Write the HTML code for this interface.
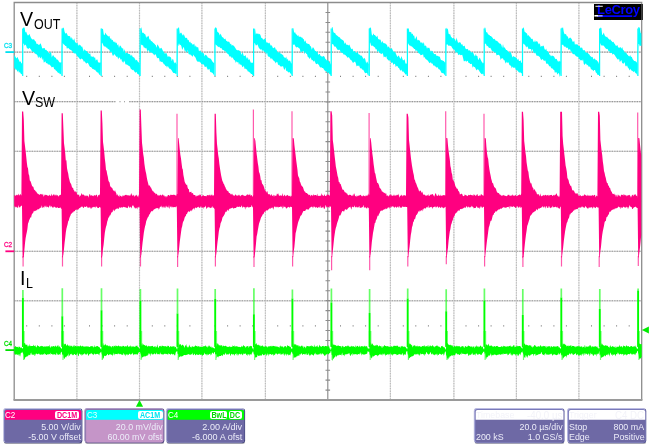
<!DOCTYPE html>
<html><head><meta charset="utf-8"><title>scope</title>
<style>
*{margin:0;padding:0;box-sizing:border-box}
html,body{width:650px;height:444px;background:#fff;overflow:hidden}
body{position:relative;font-family:"Liberation Sans",sans-serif}
#w{position:absolute;left:0;top:0;width:650px;height:444px;will-change:transform;background:#fff}
svg{position:absolute;left:0;top:0}
svg text{font-family:"Liberation Sans",sans-serif}
.lm,.ls{position:absolute;color:#000;white-space:nowrap;transform-origin:0 0}
.lm{font-size:20.2px;line-height:23px;transform:scaleX(.975)}
.ls{font-size:15.3px;line-height:18px;transform:scaleX(.815)}
.logo{position:absolute;left:594px;top:4px;width:48.6px;height:15.9px;background:#000;color:#0000ff;font-weight:bold;font-size:13px;letter-spacing:-.38px;line-height:13px;padding-left:3.1px;padding-top:0;line-height:12px;overflow:hidden;white-space:nowrap}
.bx{position:absolute;top:409.9px;height:32.4px;color:#ececf9;font-size:9.6px;line-height:10px}
.bx .hd{position:absolute;left:0;right:0;top:0;height:10px;color:#fff}
.bx .hd b{position:absolute;left:.1px;top:.1px;font-weight:normal;font-size:9.4px;line-height:10.4px;transform:scaleX(.86);transform-origin:0 0;white-space:nowrap}
.bx .hd i{position:absolute;right:1.5px;top:-.3px;font-style:normal;font-size:9px;line-height:11px;transform:scaleX(.86);transform-origin:100% 0;white-space:nowrap}
.bx .r{position:absolute;right:.9px;text-align:right;white-space:nowrap;transform:scaleX(.925);transform-origin:100% 0}
.bx .l{position:absolute;left:.6px;white-space:nowrap;transform:scaleX(.925);transform-origin:0 0}
.bx .r1,.bx .l1{top:11.9px}
.bx .r2,.bx .l2{top:22.2px}
.tg{position:absolute;top:.8px;height:8px;background:#fff;border-radius:2px;overflow:hidden}
.tg span{position:absolute;left:50%;top:-1.1px;width:60px;margin-left:-30px;text-align:center;font-size:8.7px;line-height:10px;font-weight:bold;transform:scaleX(.82);white-space:nowrap}
</style></head><body><div id="w">
<svg width="650" height="444" viewBox="0 0 650 444">
<path d="M76.9 2.5V400M139.5 2.5V400M201.9 2.5V400M265.4 2.5V400M390.4 2.5V400M453.9 2.5V400M516.4 2.5V400M578.9 2.5V400" stroke="#e2e2e2" stroke-width="1.15" fill="none"/>
<path d="M76.9 2.5V400M139.5 2.5V400M201.9 2.5V400M265.4 2.5V400M390.4 2.5V400M453.9 2.5V400M516.4 2.5V400M578.9 2.5V400" stroke="#bcbcbc" stroke-width="1.15" stroke-dasharray="1.3 1.22" fill="none"/>
<path d="M14.2 52.1H641.7M14.2 101.6H115.4M119.6 101.6h.8M124.2 101.6h.8M129.2 101.6H641.7M14.2 151.3H641.7M14.2 251.3H641.7M14.2 300.8H641.7M14.2 350.2H641.7" stroke="#d8d8d8" stroke-width="1.2" fill="none"/>
<path d="M14.2 52.1H641.7M14.2 101.6H115.4M119.6 101.6h.8M124.2 101.6h.8M129.2 101.6H641.7M14.2 151.3H641.7M14.2 251.3H641.7M14.2 300.8H641.7M14.2 350.2H641.7" stroke="#999" stroke-width="1.1" stroke-dasharray="1.3 1.2" fill="none"/>
<line x1="327.8" y1="2.5" x2="327.8" y2="400" stroke="#8c8c8c" stroke-width="1.15"/>
<line x1="14.2" y1="201.2" x2="641.7" y2="201.2" stroke="#8c8c8c" stroke-width="1.3"/>
<path d="M325.5 12.4h4.6M325.5 22.4h4.6M325.5 32.3h4.6M325.5 42.2h4.6M325.5 52.2h4.6M325.5 62.1h4.6M325.5 72.1h4.6M325.5 82h4.6M325.5 91.9h4.6M325.5 101.9h4.6M325.5 111.8h4.6M325.5 121.8h4.6M325.5 131.7h4.6M325.5 141.6h4.6M325.5 151.6h4.6M325.5 161.5h4.6M325.5 171.4h4.6M325.5 181.4h4.6M325.5 191.3h4.6M325.5 201.2h4.6M325.5 211.2h4.6M325.5 221.1h4.6M325.5 231.1h4.6M325.5 241h4.6M325.5 250.9h4.6M325.5 260.9h4.6M325.5 270.8h4.6M325.5 280.8h4.6M325.5 290.7h4.6M325.5 300.6h4.6M325.5 310.6h4.6M325.5 320.5h4.6M325.5 330.4h4.6M325.5 340.4h4.6M325.5 350.3h4.6M325.5 360.2h4.6M325.5 370.2h4.6M325.5 380.1h4.6M325.5 390.1h4.6M26.8 198.9v4.6M39.3 198.9v4.6M51.9 198.9v4.6M64.4 198.9v4.6M77 198.9v4.6M89.5 198.9v4.6M102.1 198.9v4.6M114.6 198.9v4.6M127.2 198.9v4.6M139.7 198.9v4.6M152.2 198.9v4.6M164.8 198.9v4.6M177.3 198.9v4.6M189.9 198.9v4.6M202.4 198.9v4.6M215 198.9v4.6M227.6 198.9v4.6M240.1 198.9v4.6M252.7 198.9v4.6M265.2 198.9v4.6M277.8 198.9v4.6M290.3 198.9v4.6M302.9 198.9v4.6M315.4 198.9v4.6M327.9 198.9v4.6M340.5 198.9v4.6M353.1 198.9v4.6M365.6 198.9v4.6M378.2 198.9v4.6M390.7 198.9v4.6M403.2 198.9v4.6M415.8 198.9v4.6M428.4 198.9v4.6M440.9 198.9v4.6M453.4 198.9v4.6M466 198.9v4.6M478.6 198.9v4.6M491.1 198.9v4.6M503.7 198.9v4.6M516.2 198.9v4.6M528.8 198.9v4.6M541.3 198.9v4.6M553.9 198.9v4.6M566.4 198.9v4.6M579 198.9v4.6M591.5 198.9v4.6M604.1 198.9v4.6M616.6 198.9v4.6M629.2 198.9v4.6" stroke="#8c8c8c" stroke-width="1.05" fill="none"/>
<path d="M26.2 76.4h1M38.8 76.4h1M51.4 76.4h1M63.9 76.4h1M89 76.4h1M101.6 76.4h1M114.1 76.4h1M126.7 76.4h1M151.8 76.4h1M164.3 76.4h1M176.8 76.4h1M189.4 76.4h1M214.5 76.4h1M227.1 76.4h1M239.6 76.4h1M252.2 76.4h1M277.2 76.4h1M289.8 76.4h1M302.4 76.4h1M314.9 76.4h1M340 76.4h1M352.6 76.4h1M365.1 76.4h1M377.7 76.4h1M402.8 76.4h1M415.3 76.4h1M427.9 76.4h1M440.4 76.4h1M465.5 76.4h1M478.1 76.4h1M490.6 76.4h1M503.2 76.4h1M528.3 76.4h1M540.8 76.4h1M553.4 76.4h1M565.9 76.4h1M591 76.4h1M603.6 76.4h1M616.1 76.4h1M628.7 76.4h1M26.2 325.8h1M38.8 325.8h1M51.4 325.8h1M63.9 325.8h1M89 325.8h1M101.6 325.8h1M114.1 325.8h1M126.7 325.8h1M151.8 325.8h1M164.3 325.8h1M176.8 325.8h1M189.4 325.8h1M214.5 325.8h1M227.1 325.8h1M239.6 325.8h1M252.2 325.8h1M277.2 325.8h1M289.8 325.8h1M302.4 325.8h1M314.9 325.8h1M340 325.8h1M352.6 325.8h1M365.1 325.8h1M377.7 325.8h1M402.8 325.8h1M415.3 325.8h1M427.9 325.8h1M440.4 325.8h1M465.5 325.8h1M478.1 325.8h1M490.6 325.8h1M503.2 325.8h1M528.3 325.8h1M540.8 325.8h1M553.4 325.8h1M565.9 325.8h1M591 325.8h1M603.6 325.8h1M616.1 325.8h1M628.7 325.8h1" stroke="#808080" stroke-width="1.2" fill="none"/>
<path d="M14.2 400V2.5H641.7V400" fill="none" stroke="#8c8c8c" stroke-width="1.3"/>
<path d="M13.5 400H642.4" fill="none" stroke="#9a9a9a" stroke-width="1.8"/>
<path d="M14.2 55 15 56 15.8 57.6 16.6 58.5 17.4 56.8 18.2 58.7 19 60.3 19.8 61.9 20.6 61.3 21.4 63.6 22.2 62.9 23 28.3 23.8 27.2 24.6 27.7 25.4 32.5 26.2 31.7 27 33.9 27.8 35.5 28.6 35.3 29.4 33.7 30.2 36.1 31 37.7 31.8 39 32.6 39.5 33.4 39.3 34.2 39.5 35 40.9 35.8 41.6 36.6 44.1 37.4 43.8 38.2 44.5 39 44.9 39.8 44.2 40.6 43.2 41.4 45.6 42.2 48.2 43 48.4 43.8 48.1 44.6 48 45.4 50 46.2 49.8 47 50.7 47.8 51.7 48.6 52.4 49.4 53.5 50.2 52.8 51 51.4 51.8 57.6 52.6 55.6 53.4 55.3 54.2 56.8 55 57.6 55.8 57.8 56.6 59.4 57.4 59.6 58.2 60.3 59 61.7 59.8 62.5 60.6 62.6 61.4 62.2 62.2 28.9 63 27.6 63.8 27.9 64.6 31.8 65.4 33.7 66.2 32.7 67 33.7 67.8 35.7 68.6 36 69.4 36.1 70.2 36.6 71 38.9 71.8 37 72.6 39.6 73.4 40.4 74.2 38.3 75 41.7 75.8 42.8 76.6 43.4 77.4 42.3 78.2 46 79 44.2 79.8 45.2 80.6 45.2 81.4 46.7 82.2 46.5 83 48.9 83.8 51.4 84.6 49.1 85.4 50.6 86.2 50.9 87 51.2 87.8 53.1 88.6 53.2 89.4 54 90.2 53.3 91 56.9 91.8 55.9 92.6 57.1 93.4 56.2 94.2 58 95 57 95.8 60.7 96.6 59.5 97.4 59.6 98.2 62.7 99 62 99.8 62.9 100.6 62.2 101.4 28.5 102.2 28.7 103 29 103.8 34.6 104.6 35.3 105.4 32.6 106.2 34.3 107 34.9 107.8 36.1 108.6 36.4 109.4 35.7 110.2 38.9 111 37.9 111.8 40.3 112.6 39.8 113.4 41.6 114.2 42.4 115 41.2 115.8 43.3 116.6 42.5 117.4 45.4 118.2 44.1 119 48 119.8 45.4 120.6 45.8 121.4 47.2 122.2 48.8 123 47.8 123.8 52.1 124.6 49.1 125.4 53.5 126.2 52.7 127 52.7 127.8 53.3 128.6 53.9 129.4 54 130.2 54.5 131 56.3 131.8 54.4 132.6 56.8 133.4 57.3 134.2 57.5 135 59.1 135.8 60.4 136.6 59.8 137.4 60.8 138.2 62.5 139 61.9 139.8 65.4 140.6 28.6 141.4 27.3 142.2 33 143 32.5 143.8 33.3 144.6 34 145.4 34.4 146.2 37.9 147 36 147.8 36.9 148.6 35.6 149.4 39.6 150.2 39.2 151 41.1 151.8 41.2 152.6 42 153.4 43.1 154.2 43.6 155 44.6 155.8 45.2 156.6 47.8 157.4 44.3 158.2 45.6 159 46.9 159.8 48.7 160.6 48.2 161.4 47.8 162.2 49.2 163 51 163.8 51.7 164.6 53.6 165.4 53.6 166.2 52.8 167 54.4 167.8 56.9 168.6 56.3 169.4 56.5 170.2 57 171 57.5 171.8 61.2 172.6 58.8 173.4 59.8 174.2 63.5 175 61.9 175.8 63 176.6 64.6 177.4 29.4 178.2 28.1 179 27 179.8 34 180.6 32.7 181.4 32.8 182.2 34.4 183 35.7 183.8 34 184.6 36.2 185.4 37.9 186.2 37.7 187 38.1 187.8 40.2 188.6 39.7 189.4 42.4 190.2 41.4 191 43.4 191.8 43 192.6 44.8 193.4 44.6 194.2 43.4 195 46.9 195.8 45.2 196.6 47.2 197.4 47.3 198.2 47.2 199 51.5 199.8 50.5 200.6 50.6 201.4 52.4 202.2 51.9 203 53.4 203.8 52.9 204.6 56.4 205.4 54.5 206.2 55.3 207 55.7 207.8 57.6 208.6 57.7 209.4 58.2 210.2 58.6 211 59.1 211.8 60.6 212.6 61.8 213.4 62.4 214.2 63.3 215 27.6 215.8 27.4 216.6 28.1 217.4 31.9 218.2 32.3 219 33.2 219.8 35.4 220.6 33.4 221.4 35.6 222.2 37.2 223 37.2 223.8 38.4 224.6 39.3 225.4 38.5 226.2 41 227 40.8 227.8 42.1 228.6 41.5 229.4 42.1 230.2 44.3 231 43.4 231.8 45.8 232.6 44.9 233.4 45.6 234.2 46.2 235 47.4 235.8 48.8 236.6 49.9 237.4 50.2 238.2 50.3 239 50.3 239.8 51 240.6 51.5 241.4 55.1 242.2 52.6 243 53.6 243.8 55.9 244.6 55.9 245.4 55 246.2 57.2 247 58.9 247.8 57.1 248.6 60.2 249.4 59 250.2 61.3 251 63.1 251.8 62.6 252.6 62.7 253.4 63 254.2 29.3 255 28.2 255.8 34.6 256.6 33.3 257.4 33.7 258.2 33.6 259 34.4 259.8 33.8 260.6 35.6 261.4 38 262.2 38 263 39.5 263.8 39.6 264.6 38.9 265.4 38.1 266.2 41.7 267 42.9 267.8 42.3 268.6 43.5 269.4 42.6 270.2 44.5 271 45.9 271.8 44.9 272.6 47.5 273.4 48.2 274.2 47.4 275 47.2 275.8 49.8 276.6 49.6 277.4 52.4 278.2 51.6 279 53 279.8 52.1 280.6 53.7 281.4 53.8 282.2 54.7 283 54.7 283.8 57.1 284.6 57.6 285.4 58.3 286.2 56.5 287 59.9 287.8 58.4 288.6 61.3 289.4 60.4 290.2 60.7 291 62.9 291.8 63.8 292.6 28 293.4 28.2 294.2 33 295 32 295.8 34.1 296.6 34.5 297.4 35.9 298.2 35.1 299 36.9 299.8 36.6 300.6 36.7 301.4 37.5 302.2 37.5 303 38.8 303.8 39.3 304.6 41.9 305.4 40.3 306.2 43.1 307 43.4 307.8 43.7 308.6 44.1 309.4 44.2 310.2 45.9 311 46.6 311.8 49.8 312.6 47.4 313.4 47.6 314.2 49.1 315 50.7 315.8 51.1 316.6 51.9 317.4 51 318.2 55.1 319 54.1 319.8 53.9 320.6 56 321.4 56.2 322.2 56.7 323 56.3 323.8 55.9 324.6 57 325.4 58.9 326.2 59.5 327 60.8 327.8 59.9 328.6 60.8 329.4 62.7 330.2 63.1 331 64.8 331.8 27.6 332.6 27 333.4 32.1 334.2 33.1 335 32.7 335.8 34.5 336.6 35.2 337.4 35.7 338.2 36.6 339 37.2 339.8 37.2 340.6 38.8 341.4 39.2 342.2 39.8 343 40.3 343.8 41.1 344.6 43.9 345.4 42.3 346.2 44.8 347 44.4 347.8 45.1 348.6 45.4 349.4 44.6 350.2 46.8 351 48.6 351.8 49.3 352.6 48.4 353.4 51.5 354.2 51.2 355 51.1 355.8 52.8 356.6 53.1 357.4 51.3 358.2 53.4 359 54.7 359.8 54.4 360.6 55.8 361.4 55.5 362.2 56.5 363 57.9 363.8 58.9 364.6 57.7 365.4 59.7 366.2 63.5 367 61.3 367.8 62.4 368.6 64.3 369.4 28.2 370.2 27.3 371 28.2 371.8 34.5 372.6 35.8 373.4 33.3 374.2 34.9 375 34.9 375.8 36.2 376.6 37.1 377.4 35.4 378.2 39.6 379 38.7 379.8 39.9 380.6 39.6 381.4 42.9 382.2 40.8 383 42.6 383.8 43.3 384.6 43.3 385.4 43.4 386.2 44.2 387 44.9 387.8 47.4 388.6 46.2 389.4 47.6 390.2 48.9 391 48.7 391.8 47.8 392.6 49.9 393.4 51.3 394.2 52.3 395 51.4 395.8 53.4 396.6 55.3 397.4 57.2 398.2 55.5 399 55.9 399.8 57.8 400.6 59 401.4 56 402.2 58.3 403 60.5 403.8 60 404.6 59.2 405.4 63.3 406.2 64.1 407 63 407.8 29.2 408.6 27.9 409.4 32.1 410.2 32.2 411 31.7 411.8 34.3 412.6 33.4 413.4 35.8 414.2 35.6 415 39.5 415.8 37.8 416.6 36 417.4 40.4 418.2 39.8 419 40.6 419.8 40.4 420.6 42.7 421.4 42.4 422.2 42.6 423 44.1 423.8 42.1 424.6 46.1 425.4 45.6 426.2 45.9 427 48.7 427.8 47.2 428.6 48.1 429.4 47.7 430.2 50.4 431 51.7 431.8 50.5 432.6 51.2 433.4 53.1 434.2 53.9 435 54.2 435.8 54.1 436.6 56 437.4 55.8 438.2 56.1 439 56.7 439.8 56.4 440.6 59.2 441.4 60.2 442.2 59.9 443 61.3 443.8 60.8 444.6 62.3 445.4 62.5 446.2 27.4 447 29.5 447.8 28.2 448.6 33.8 449.4 34.2 450.2 34.3 451 36.7 451.8 37.6 452.6 38.6 453.4 37.5 454.2 39.2 455 38.9 455.8 41.4 456.6 37.5 457.4 40.8 458.2 43.2 459 41.9 459.8 42.5 460.6 42.4 461.4 44.8 462.2 43.9 463 45.9 463.8 46.3 464.6 45.4 465.4 48.4 466.2 49.1 467 49.2 467.8 48.8 468.6 50.8 469.4 50.3 470.2 50.8 471 52.3 471.8 52.5 472.6 52.1 473.4 53.2 474.2 55.2 475 56.4 475.8 53.7 476.6 56 477.4 55.9 478.2 60.3 479 58.8 479.8 57.5 480.6 59.4 481.4 61.2 482.2 62.2 483 63.4 483.8 62.4 484.6 27.6 485.4 27.8 486.2 32.5 487 31.9 487.8 33.8 488.6 34.8 489.4 35 490.2 35.9 491 35.9 491.8 37.1 492.6 37.8 493.4 39.3 494.2 38.8 495 39.6 495.8 40.8 496.6 40.7 497.4 41.2 498.2 42 499 43.2 499.8 43.5 500.6 43.8 501.4 44.9 502.2 47.9 503 44.1 503.8 47.8 504.6 47.2 505.4 48.8 506.2 49.9 507 50.1 507.8 51.3 508.6 51.6 509.4 53.3 510.2 52 511 52.7 511.8 55.3 512.6 57.5 513.4 56 514.2 56.7 515 56.9 515.8 57.5 516.6 58.1 517.4 60 518.2 58.5 519 61.1 519.8 61.1 520.6 60.2 521.4 62.9 522.2 62.6 523 27.4 523.8 27.8 524.6 31.8 525.4 32.3 526.2 33 527 33.4 527.8 36.1 528.6 35 529.4 36.5 530.2 37.1 531 38.5 531.8 39 532.6 38.7 533.4 41.4 534.2 42.2 535 40 535.8 42.3 536.6 40.9 537.4 41.6 538.2 43.2 539 44.6 539.8 42.9 540.6 46.9 541.4 46 542.2 46.6 543 45.5 543.8 46 544.6 49.3 545.4 49.9 546.2 48.4 547 51.4 547.8 51.3 548.6 51.9 549.4 54.4 550.2 54.7 551 56.4 551.8 55.4 552.6 55.8 553.4 56.1 554.2 56.7 555 58.4 555.8 59.3 556.6 58.8 557.4 60.5 558.2 61.9 559 60.4 559.8 61.5 560.6 61.4 561.4 27.6 562.2 28.3 563 27 563.8 32.1 564.6 34.2 565.4 34 566.2 34.5 567 36.4 567.8 36.2 568.6 39.1 569.4 38.1 570.2 37.6 571 38.3 571.8 39.2 572.6 41.7 573.4 41.8 574.2 40.8 575 45 575.8 43.7 576.6 44.6 577.4 44.3 578.2 45.7 579 46.1 579.8 46.1 580.6 48.3 581.4 47.5 582.2 47.7 583 50.2 583.8 50.3 584.6 50 585.4 52.2 586.2 52.6 587 52.8 587.8 52.7 588.6 54.1 589.4 54.6 590.2 56 591 56.6 591.8 57.3 592.6 56.8 593.4 59.4 594.2 58.6 595 58.7 595.8 60.2 596.6 60 597.4 61.2 598.2 61.8 599 63.9 599.8 28.9 600.6 27.6 601.4 27.9 602.2 35.3 603 34.2 603.8 32.4 604.6 35.3 605.4 36.2 606.2 37.2 607 36.5 607.8 37.9 608.6 38.8 609.4 39.7 610.2 39.3 611 40.4 611.8 41.3 612.6 42.3 613.4 41.7 614.2 43.3 615 44.3 615.8 45.8 616.6 45.7 617.4 45 618.2 47.4 619 47.4 619.8 47.8 620.6 46.9 621.4 48.7 622.2 46.9 623 49.8 623.8 50.4 624.6 52.6 625.4 52.4 626.2 52.6 627 54.3 627.8 55 628.6 56 629.4 56.5 630.2 55.1 631 57.1 631.8 56.7 632.6 59 633.4 59.9 634.2 61.1 635 60.9 635.8 61.6 636.6 62.1 637.4 64 638.2 27.6 639 27 639.8 27.9 640.6 33 641.4 33.6 641.4 46.1 640.6 45.6 639.8 46.4 639 43.9 638.2 44.1 637.4 76 636.6 73.7 635.8 73.3 635 72.5 634.2 70.9 633.4 72.3 632.6 70.9 631.8 70.8 631 69.9 630.2 68.7 629.4 70.4 628.6 68.2 627.8 67.4 627 65.3 626.2 66.4 625.4 66 624.6 61.9 623.8 63.7 623 63.2 622.2 63.3 621.4 60.1 620.6 61.1 619.8 62.2 619 58.6 618.2 59.8 617.4 59.2 616.6 58 615.8 57.1 615 55.4 614.2 54.6 613.4 53.7 612.6 54.8 611.8 53 611 52.7 610.2 53.2 609.4 50.7 608.6 51.6 607.8 49.3 607 48.8 606.2 49.1 605.4 47.9 604.6 46.9 603.8 45.7 603 45.5 602.2 45.4 601.4 45.4 600.6 44.2 599.8 42.6 599 74.7 598.2 75.1 597.4 74.7 596.6 73 595.8 72.6 595 70 594.2 70.1 593.4 71.2 592.6 70.1 591.8 69.4 591 69.2 590.2 67 589.4 66.6 588.6 66.7 587.8 64.8 587 65.4 586.2 63.7 585.4 63.4 584.6 64.9 583.8 64 583 59.3 582.2 61.1 581.4 59.9 580.6 60.5 579.8 59.3 579 59 578.2 56.9 577.4 56.7 576.6 56.5 575.8 56 575 55.1 574.2 54.1 573.4 54.3 572.6 53.9 571.8 51.3 571 52.6 570.2 49.5 569.4 49.3 568.6 50.1 567.8 48 567 47.4 566.2 48 565.4 46.6 564.6 46.7 563.8 46.2 563 44.5 562.2 45 561.4 44.5 560.6 74.3 559.8 76.9 559 73.6 558.2 73.1 557.4 74.7 556.6 72.5 555.8 71.8 555 73.2 554.2 69.9 553.4 69.7 552.6 68.6 551.8 68.4 551 67.8 550.2 66 549.4 66.4 548.6 65 547.8 63.6 547 63.9 546.2 63.5 545.4 60.6 544.6 60.8 543.8 60.8 543 59.6 542.2 59 541.4 60.3 540.6 59 539.8 57 539 56.5 538.2 55.8 537.4 55.8 536.6 55.8 535.8 53.8 535 52.3 534.2 53.5 533.4 52.4 532.6 48.8 531.8 51.9 531 49 530.2 48.9 529.4 48.8 528.6 49.4 527.8 47 527 46.3 526.2 47.4 525.4 45.4 524.6 44.7 523.8 43.5 523 44.5 522.2 73.4 521.4 73.3 520.6 72.5 519.8 72.4 519 72.6 518.2 71.6 517.4 70.4 516.6 70 515.8 69.9 515 67.3 514.2 68.1 513.4 67.7 512.6 66.4 511.8 68.4 511 65.7 510.2 65.6 509.4 65.1 508.6 62.4 507.8 62.3 507 63.2 506.2 61.4 505.4 63.8 504.6 60.3 503.8 60.2 503 58.5 502.2 58.3 501.4 58.6 500.6 60 499.8 55.9 499 55.1 498.2 54.8 497.4 55 496.6 55.5 495.8 52.7 495 52.2 494.2 52.5 493.4 51.4 492.6 50.9 491.8 50.7 491 49 490.2 47.8 489.4 48 488.6 47.4 487.8 45.8 487 46.4 486.2 44.6 485.4 43.4 484.6 43.9 483.8 74.3 483 74.4 482.2 73.5 481.4 74.2 480.6 72.9 479.8 72 479 70.6 478.2 69.5 477.4 69.2 476.6 70.5 475.8 68.9 475 67.2 474.2 67 473.4 66.3 472.6 67.7 471.8 63.7 471 63.9 470.2 64 469.4 63.1 468.6 62.9 467.8 61.1 467 60.7 466.2 61.9 465.4 60.6 464.6 61.3 463.8 61.2 463 57.8 462.2 54.8 461.4 55 460.6 55.3 459.8 54.5 459 54.5 458.2 55.3 457.4 52.3 456.6 52 455.8 53.6 455 50.8 454.2 49.5 453.4 49.4 452.6 48.4 451.8 47.3 451 45.7 450.2 46.1 449.4 45.6 448.6 46 447.8 44.5 447 44.4 446.2 44.4 445.4 75.5 444.6 75 443.8 73.5 443 73.3 442.2 73 441.4 72.7 440.6 70.9 439.8 69.4 439 69.5 438.2 68.4 437.4 67 436.6 67.7 435.8 66.5 435 66.5 434.2 65.2 433.4 65.8 432.6 63.6 431.8 63.7 431 62.6 430.2 62.6 429.4 63.3 428.6 61.8 427.8 60.8 427 59.8 426.2 59.5 425.4 58.8 424.6 57.1 423.8 57.8 423 54 422.2 54.9 421.4 55.1 420.6 55.3 419.8 53.7 419 53.4 418.2 52.8 417.4 51.1 416.6 50.2 415.8 51.4 415 49 414.2 49.1 413.4 48.1 412.6 47.3 411.8 46.3 411 46.4 410.2 45.5 409.4 45.6 408.6 44.3 407.8 42.7 407 75.9 406.2 73.8 405.4 74.8 404.6 73 403.8 72.3 403 71.1 402.2 72.1 401.4 69.6 400.6 70.7 399.8 69.7 399 68 398.2 67.8 397.4 66 396.6 65.7 395.8 67.2 395 64 394.2 63.7 393.4 65.1 392.6 62.3 391.8 63.2 391 62.3 390.2 59.9 389.4 60.7 388.6 60.6 387.8 59.5 387 58.9 386.2 56.1 385.4 57.5 384.6 56.6 383.8 57.5 383 53.9 382.2 53.1 381.4 54.3 380.6 53.5 379.8 52.9 379 52.2 378.2 50.4 377.4 52.4 376.6 49.1 375.8 49.4 375 47.4 374.2 46.9 373.4 46.3 372.6 45.6 371.8 45.9 371 45.3 370.2 42.5 369.4 43.5 368.6 75.3 367.8 75.3 367 72.7 366.2 73.1 365.4 73.2 364.6 72.4 363.8 70.8 363 69.4 362.2 69.7 361.4 68.2 360.6 68.5 359.8 67.5 359 65.3 358.2 66.3 357.4 65.5 356.6 66.6 355.8 63.2 355 61.6 354.2 62.1 353.4 62.8 352.6 62.4 351.8 60.8 351 60 350.2 59.6 349.4 57.9 348.6 57.1 347.8 58 347 56.8 346.2 55.9 345.4 55 344.6 54.5 343.8 54.7 343 53.4 342.2 52.5 341.4 52.7 340.6 52.2 339.8 49.6 339 50.3 338.2 49.7 337.4 49.8 336.6 48.2 335.8 46.9 335 46.2 334.2 46.8 333.4 44.6 332.6 44.3 331.8 43.7 331 75.9 330.2 74.3 329.4 74.3 328.6 72 327.8 73.7 327 71.7 326.2 71.5 325.4 70.9 324.6 70.4 323.8 69.3 323 67.9 322.2 68 321.4 67.3 320.6 67.5 319.8 67 319 65.3 318.2 64.2 317.4 63.4 316.6 64.2 315.8 63.7 315 61.9 314.2 60.5 313.4 61.8 312.6 60 311.8 60.2 311 58.6 310.2 57.3 309.4 59.2 308.6 57.2 307.8 57.1 307 54 306.2 53.8 305.4 51.7 304.6 54.4 303.8 50.7 303 51.8 302.2 51.2 301.4 51.9 300.6 52.6 299.8 48.8 299 48.3 298.2 47.6 297.4 46.9 296.6 47.4 295.8 47.1 295 45.4 294.2 44.3 293.4 45.1 292.6 43.4 291.8 75.1 291 74.3 290.2 73 289.4 72.1 288.6 72.4 287.8 72 287 70.4 286.2 71.3 285.4 67.2 284.6 70.1 283.8 68.7 283 65.9 282.2 66.4 281.4 66.5 280.6 66.5 279.8 65.8 279 64.6 278.2 65.2 277.4 62.2 276.6 61.7 275.8 63.5 275 61.9 274.2 61.1 273.4 60.6 272.6 59.6 271.8 58.1 271 59.5 270.2 57.8 269.4 56.8 268.6 56.7 267.8 56.1 267 52.2 266.2 54.7 265.4 52.3 264.6 52 263.8 51.6 263 49.7 262.2 51.5 261.4 48.9 260.6 49.8 259.8 48.8 259 48.2 258.2 46.2 257.4 44.3 256.6 45.2 255.8 45.4 255 43.6 254.2 42.9 253.4 75 252.6 75.1 251.8 74.1 251 74.1 250.2 72.7 249.4 72.3 248.6 71.4 247.8 71.6 247 69.4 246.2 69.3 245.4 68.4 244.6 68.9 243.8 65.5 243 67.2 242.2 66.8 241.4 64.7 240.6 64.9 239.8 63.2 239 65.1 238.2 61.9 237.4 62.4 236.6 61.3 235.8 63 235 60.6 234.2 60 233.4 59.1 232.6 57.2 231.8 58.3 231 56.5 230.2 56.4 229.4 56.4 228.6 54.5 227.8 53.8 227 53.4 226.2 51.9 225.4 51.3 224.6 51.3 223.8 50 223 50.2 222.2 49.6 221.4 47.9 220.6 48.3 219.8 47.5 219 46.5 218.2 47.3 217.4 46 216.6 45.2 215.8 44.9 215 43.5 214.2 75.2 213.4 74.2 212.6 73 211.8 72.5 211 72.2 210.2 71.9 209.4 68.8 208.6 69.6 207.8 69.7 207 67.9 206.2 66.2 205.4 67.1 204.6 66.7 203.8 64.2 203 64.8 202.2 64 201.4 64.2 200.6 62.4 199.8 62.3 199 61.2 198.2 62.1 197.4 61.4 196.6 60.5 195.8 58.3 195 56.8 194.2 56.2 193.4 54.6 192.6 57.1 191.8 55.5 191 55.6 190.2 54.2 189.4 54.6 188.6 53.9 187.8 50.1 187 52.2 186.2 52.4 185.4 50.6 184.6 51 183.8 46.7 183 48.3 182.2 50.1 181.4 46.2 180.6 44.8 179.8 45.3 179 43.3 178.2 46.3 177.4 44.4 176.6 73.7 175.8 74.1 175 73.2 174.2 72.9 173.4 72.9 172.6 71.9 171.8 70.4 171 69.5 170.2 68.8 169.4 68.7 168.6 67.5 167.8 65.8 167 67.7 166.2 65.8 165.4 65.9 164.6 64.5 163.8 64.3 163 62.8 162.2 61.8 161.4 62 160.6 61.2 159.8 61.7 159 58.3 158.2 58.1 157.4 58.3 156.6 57 155.8 54.6 155 54.2 154.2 55.4 153.4 53.9 152.6 53.3 151.8 53 151 52.1 150.2 52.8 149.4 52 148.6 49.8 147.8 52 147 50 146.2 47.7 145.4 48.6 144.6 47.5 143.8 47.5 143 45.3 142.2 45.3 141.4 45.1 140.6 43.3 139.8 76.3 139 75 138.2 74 137.4 74.1 136.6 71.7 135.8 72.9 135 71.8 134.2 71.5 133.4 69.7 132.6 70.3 131.8 69.2 131 69.2 130.2 67.3 129.4 65.9 128.6 65.8 127.8 65.2 127 64.5 126.2 64.6 125.4 64.2 124.6 60.5 123.8 62.9 123 60.9 122.2 62.4 121.4 59.1 120.6 59.8 119.8 57.8 119 57.6 118.2 59.4 117.4 56.6 116.6 56.9 115.8 56 115 55.1 114.2 54 113.4 55.7 112.6 55.5 111.8 52.4 111 51.4 110.2 52.5 109.4 49.8 108.6 49.3 107.8 48.9 107 47.5 106.2 47.8 105.4 46.6 104.6 46.6 103.8 46.3 103 44.4 102.2 42.8 101.4 43.3 100.6 75.5 99.8 74.9 99 74.2 98.2 72.4 97.4 72.5 96.6 71.8 95.8 70.9 95 69.6 94.2 69.9 93.4 69.1 92.6 68.9 91.8 68.1 91 66.9 90.2 67.1 89.4 65.9 88.6 64.2 87.8 62.8 87 63 86.2 63.7 85.4 62.4 84.6 61.2 83.8 61.7 83 59.7 82.2 59.1 81.4 58.6 80.6 59.4 79.8 58.9 79 58 78.2 56.9 77.4 56.2 76.6 55.6 75.8 53 75 54.3 74.2 52.8 73.4 53.2 72.6 51.4 71.8 50.7 71 49.9 70.2 49.7 69.4 49.3 68.6 48.3 67.8 47.8 67 48.9 66.2 45.9 65.4 46.1 64.6 45 63.8 44.5 63 43.4 62.2 42.7 61.4 75.9 60.6 73.8 59.8 74.2 59 72.6 58.2 73.3 57.4 72.1 56.6 71 55.8 70.5 55 69.2 54.2 69.2 53.4 66.8 52.6 67 51.8 67.5 51 66.2 50.2 65.2 49.4 64.4 48.6 64.6 47.8 64.2 47 62.8 46.2 63.5 45.4 61.3 44.6 62.1 43.8 62.7 43 58.1 42.2 60.2 41.4 56.4 40.6 58.6 39.8 57.4 39 56.2 38.2 58.3 37.4 55.3 36.6 54.6 35.8 53.5 35 54.3 34.2 51.7 33.4 52 32.6 51.8 31.8 51.2 31 49.4 30.2 48.7 29.4 47.8 28.6 48.9 27.8 48.2 27 48.4 26.2 45.7 25.4 44.6 24.6 45.8 23.8 44.1 23 43.2 22.2 74.3 21.4 74.2 20.6 73.5 19.8 71.7 19 73 18.2 70.2 17.4 72 16.6 69.6 15.8 69.9 15 68.2 14.2 68.5Z" fill="#00ffff"/>
<path d="M22.7 76V28.5M62.1 76V28.5M101.2 76V28.5M140.1 76V28.5M177.2 76V28.5M215 76V28.5M253.6 76V28.5M292.2 76V28.5M331.2 76V28.5M369.3 76V28.5M407.4 76V28.5M445.9 76V28.5M484.2 76V28.5M522.5 76V28.5M561.1 76V28.5M599.6 76V28.5M637.9 76V28.5" stroke="#00ffff" stroke-width="1.2" fill="none"/>
<path d="M14.2 195.6 14.8 194.9 15.4 195.7 16 195.6 16.6 194.8 17.2 194.8 17.8 195.5 18.4 193.5 19 195.6 19.6 195.2 20.2 193.8 20.8 194.8 21.4 195.6 22 111.5 22.6 111.5 23.2 111.5 23.8 119.6 24.4 140.9 25 145.9 25.6 151 26.2 156.4 26.8 162.3 27.4 167 28 168.3 28.6 174 29.2 175.5 29.8 180.6 30.4 180.9 31 182.6 31.6 184.4 32.2 186.3 32.8 186.4 33.4 186.9 34 189.5 34.6 190.1 35.2 190.6 35.8 191.4 36.4 191.7 37 192.9 37.6 193.5 38.2 194.4 38.8 193.8 39.4 195.1 40 194.4 40.6 193.7 41.2 194.7 41.8 193.7 42.4 194.9 43 193.6 43.6 196.7 44.2 195.7 44.8 194.6 45.4 194.8 46 195.3 46.6 194.8 47.2 195.5 47.8 195.6 48.4 195.8 49 195.8 49.6 194.5 50.2 196.1 50.8 195.7 51.4 193.4 52 195.9 52.6 195.4 53.2 194.5 53.8 194.6 54.4 194.5 55 195.9 55.6 194.7 56.2 194.5 56.8 195.7 57.4 195.1 58 195.7 58.6 196.8 59.2 194.9 59.8 195.6 60.4 194.8 61 194.7 61.6 113.3 62.2 113.3 62.8 113.3 63.4 128.6 64 143.3 64.6 147.8 65.2 153.1 65.8 160.6 66.4 160.3 67 168 67.6 171.2 68.2 173.6 68.8 177.6 69.4 179.7 70 182.3 70.6 183.3 71.2 184.3 71.8 186.5 72.4 188.1 73 187.5 73.6 189.9 74.2 190.4 74.8 192 75.4 191 76 192.4 76.6 191.7 77.2 195.1 77.8 194.5 78.4 194.9 79 194.2 79.6 196.9 80.2 195.8 80.8 195.4 81.4 192.8 82 194.8 82.6 194.6 83.2 194.7 83.8 194.6 84.4 195.2 85 196.6 85.6 195.6 86.2 195.2 86.8 196.2 87.4 195.8 88 195.5 88.6 197.8 89.2 195.1 89.8 193.8 90.4 195.3 91 195.9 91.6 195.1 92.2 195.5 92.8 196 93.4 196.2 94 194.9 94.6 195.3 95.2 195.8 95.8 195.2 96.4 194.6 97 195.2 97.6 197.4 98.2 195.1 98.8 195.2 99.4 195.2 100 193.5 100.6 110.4 101.2 110.4 101.8 110.4 102.4 123.1 103 141.8 103.6 146.5 104.2 151.8 104.8 158.5 105.4 163.2 106 169.8 106.6 170.7 107.2 174.3 107.8 176.7 108.4 180.6 109 181.7 109.6 182.5 110.2 186.3 110.8 186.7 111.4 187.6 112 187.8 112.6 188.8 113.2 191 113.8 190 114.4 191.8 115 190 115.6 192.1 116.2 193.1 116.8 195.6 117.4 193.9 118 195.7 118.6 195.7 119.2 197.2 119.8 194.6 120.4 196.1 121 195.9 121.6 197.1 122.2 194.9 122.8 196.7 123.4 195.8 124 195.3 124.6 195.7 125.2 194.8 125.8 195 126.4 194.8 127 195.5 127.6 195.2 128.2 194.9 128.8 195.7 129.4 195.3 130 196 130.6 194.9 131.2 193 131.8 194.6 132.4 196.2 133 194.6 133.6 195.4 134.2 195.5 134.8 196.9 135.4 195.1 136 195.9 136.6 194.5 137.2 195.8 137.8 196.9 138.4 194.6 139 198 139.6 109.6 140.2 109.6 140.8 109.6 141.4 127 142 142.7 142.6 148 143.2 154 143.8 157.4 144.4 163.8 145 167.9 145.6 171.2 146.2 173.8 146.8 177.4 147.4 180.5 148 182.8 148.6 185.2 149.2 185.9 149.8 184.9 150.4 187.3 151 187.5 151.6 189 152.2 190.3 152.8 191.3 153.4 191.3 154 192.5 154.6 192.8 155.2 193 155.8 194.6 156.4 193.5 157 194.2 157.6 195.2 158.2 196 158.8 194.8 159.4 195.5 160 195.5 160.6 194.4 161.2 195.3 161.8 195.8 162.4 194.6 163 194.4 163.6 195.7 164.2 195.3 164.8 196.7 165.4 195.8 166 197.8 166.6 196.1 167.2 196.7 167.8 195.2 168.4 195.1 169 195.1 169.6 195.9 170.2 195.2 170.8 194.5 171.4 195.1 172 194.8 172.6 194.9 173.2 195 173.8 194.6 174.4 195 175 194.8 175.6 195.5 176.2 196.1 176.8 194.2 177.4 194 178 138.1 178.6 138.3 179.2 144 179.8 150 180.4 155 181 158.4 181.6 163.4 182.2 168.3 182.8 169.6 183.4 175.1 184 177.9 184.6 181.4 185.2 183 185.8 184.1 186.4 185.3 187 184.3 187.6 187.5 188.2 189 188.8 189 189.4 192.4 190 191.9 190.6 192.1 191.2 191.6 191.8 193.4 192.4 193.1 193 193.3 193.6 195 194.2 194.9 194.8 195.1 195.4 195.3 196 196.9 196.6 195.5 197.2 195.9 197.8 195.6 198.4 194.9 199 196 199.6 194.6 200.2 194.6 200.8 195 201.4 196.7 202 196 202.6 195.5 203.2 195.1 203.8 195.7 204.4 196 205 196.1 205.6 196 206.2 196.5 206.8 195.6 207.4 195 208 195.2 208.6 195.3 209.2 195.6 209.8 194.4 210.4 195.9 211 194.2 211.6 195.1 212.2 196.1 212.8 194.6 213.4 195.6 214 195.5 214.6 113.8 215.2 113.8 215.8 113.8 216.4 132.5 217 144 217.6 149.1 218.2 154.9 218.8 158.4 219.4 164.3 220 168.6 220.6 172.3 221.2 175.8 221.8 178.4 222.4 181 223 182 223.6 183.8 224.2 184.5 224.8 186.3 225.4 187.2 226 189.1 226.6 189.8 227.2 191.2 227.8 190.4 228.4 191.5 229 193.1 229.6 193.1 230.2 193.4 230.8 194.5 231.4 194.4 232 193.5 232.6 194.4 233.2 195.9 233.8 194.7 234.4 196 235 195.3 235.6 194 236.2 196 236.8 194.9 237.4 195.5 238 195.9 238.6 194.6 239.2 196.1 239.8 194.5 240.4 196.5 241 195.4 241.6 195.1 242.2 195.2 242.8 194.4 243.4 195.2 244 195.9 244.6 195.8 245.2 195.8 245.8 196.1 246.4 195.2 247 194.5 247.6 194.4 248.2 194.6 248.8 195.3 249.4 195.1 250 193.5 250.6 196 251.2 194.9 251.8 195.2 252.4 197 253 195.8 253.6 194.9 254.2 138.1 254.8 138.2 255.4 140.9 256 147.3 256.6 153.4 257.2 158.2 257.8 162.9 258.4 166.6 259 171.9 259.6 173.2 260.2 176 260.8 180.3 261.4 180 262 183.6 262.6 184.2 263.2 185 263.8 186.5 264.4 188.5 265 190.4 265.6 190.4 266.2 192.8 266.8 191.3 267.4 191.3 268 194 268.6 194.3 269.2 194.5 269.8 194 270.4 195.2 271 195.7 271.6 193.7 272.2 195.7 272.8 196.1 273.4 194.4 274 197.1 274.6 195 275.2 195.7 275.8 195.7 276.4 195.8 277 193.3 277.6 194.6 278.2 193.3 278.8 195.2 279.4 195.9 280 195.3 280.6 195.4 281.2 195.4 281.8 195.9 282.4 193.1 283 196 283.6 196.2 284.2 194.5 284.8 195.2 285.4 196.6 286 195.2 286.6 195.7 287.2 195.3 287.8 194.7 288.4 196.2 289 195.5 289.6 196.2 290.2 195.6 290.8 197.1 291.4 196.1 292 195.4 292.6 138 293.2 138.2 293.8 138.3 294.4 145 295 150.1 295.6 154.9 296.2 160.3 296.8 164.8 297.4 169.3 298 175.6 298.6 176.9 299.2 177.9 299.8 181.5 300.4 182.5 301 184.5 301.6 185.7 302.2 186.4 302.8 186.7 303.4 188.6 304 190.4 304.6 191.5 305.2 191.7 305.8 193 306.4 192.9 307 193.1 307.6 194 308.2 194.2 308.8 195.3 309.4 194.9 310 194.4 310.6 196.5 311.2 195.2 311.8 194.7 312.4 195.5 313 196 313.6 194.1 314.2 195.4 314.8 195.1 315.4 195.1 316 194.9 316.6 196 317.2 193.6 317.8 196 318.4 195.9 319 195.5 319.6 196.1 320.2 195.9 320.8 195.6 321.4 193 322 195.9 322.6 194.5 323.2 195.7 323.8 196.1 324.4 193.9 325 195.8 325.6 196 326.2 196.1 326.8 194.5 327.4 194.6 328 195 328.6 194.5 329.2 195.8 329.8 195.3 330.4 111.3 331 111.3 331.6 111.3 332.2 115.4 332.8 140 333.4 144.6 334 150.1 334.6 155.8 335.2 160.8 335.8 166.2 336.4 169.2 337 172.6 337.6 175.9 338.2 177.8 338.8 182.1 339.4 181.9 340 184.1 340.6 183.8 341.2 185.8 341.8 187.5 342.4 189.6 343 189.7 343.6 189.8 344.2 191.1 344.8 192.3 345.4 192.6 346 192.6 346.6 193.6 347.2 193.5 347.8 195.1 348.4 195.5 349 194.7 349.6 194.8 350.2 195.1 350.8 194.7 351.4 195.8 352 195.8 352.6 195.7 353.2 193.5 353.8 196.1 354.4 192.9 355 195.7 355.6 196.6 356.2 195.3 356.8 196.9 357.4 196.1 358 195.4 358.6 195.7 359.2 195.7 359.8 195 360.4 194.8 361 195.2 361.6 195.9 362.2 196.6 362.8 195.8 363.4 195.3 364 196.1 364.6 196.3 365.2 195.2 365.8 196.4 366.4 195.4 367 195.6 367.6 195.8 368.2 193.2 368.8 195.3 369.4 194.5 370 138.1 370.6 138.2 371.2 142.2 371.8 148.5 372.4 153.9 373 158.2 373.6 164 374.2 168.3 374.8 172.7 375.4 173.7 376 177.2 376.6 179.9 377.2 183 377.8 182.8 378.4 183.8 379 185.2 379.6 187.7 380.2 188.2 380.8 189 381.4 189.9 382 191.8 382.6 191.4 383.2 191.9 383.8 192.8 384.4 193.2 385 192.6 385.6 193.9 386.2 193.2 386.8 196.2 387.4 195.3 388 195.7 388.6 196.8 389.2 194.5 389.8 195.8 390.4 195.1 391 194 391.6 195.6 392.2 195.9 392.8 195.6 393.4 195.7 394 194.3 394.6 195.7 395.2 195.8 395.8 195.3 396.4 195.6 397 194.6 397.6 195 398.2 195.4 398.8 193.4 399.4 197.7 400 196.2 400.6 195.8 401.2 194.6 401.8 195.5 402.4 196.4 403 194.8 403.6 195.8 404.2 195.1 404.8 195.6 405.4 195.5 406 195.7 406.6 113.8 407.2 113.8 407.8 113.8 408.4 117.5 409 140 409.6 145.3 410.2 150.9 410.8 156.7 411.4 161.4 412 165.7 412.6 169.2 413.2 172.4 413.8 175.1 414.4 179.3 415 180.3 415.6 182.5 416.2 183.4 416.8 185.2 417.4 186.9 418 188.1 418.6 189.7 419.2 191.8 419.8 190.5 420.4 190.4 421 191.3 421.6 192.9 422.2 191.6 422.8 193.3 423.4 194.7 424 194.7 424.6 194.5 425.2 195.4 425.8 195.4 426.4 196 427 194.7 427.6 195.8 428.2 194.1 428.8 196.1 429.4 195.9 430 195 430.6 194.6 431.2 195.1 431.8 193.9 432.4 194.1 433 194.5 433.6 195.5 434.2 196.8 434.8 195 435.4 193.2 436 193.5 436.6 195.4 437.2 195.7 437.8 196.1 438.4 194 439 196.1 439.6 195.8 440.2 194.5 440.8 196.1 441.4 196.1 442 194.9 442.6 195.7 443.2 195.2 443.8 194.9 444.4 195 445 195.8 445.6 195.2 446.2 138 446.8 138.1 447.4 138.3 448 145.4 448.6 151.1 449.2 155.6 449.8 159.5 450.4 166 451 168.5 451.6 172.8 452.2 174.5 452.8 179.8 453.4 180.3 454 181.6 454.6 183 455.2 185.6 455.8 186.9 456.4 187.8 457 189 457.6 188.6 458.2 190.8 458.8 191.2 459.4 192.3 460 194.8 460.6 193.9 461.2 193.9 461.8 193.6 462.4 194.5 463 196.2 463.6 195.9 464.2 195.9 464.8 194.2 465.4 194.9 466 195.3 466.6 195.6 467.2 195.7 467.8 196.2 468.4 194.8 469 195.1 469.6 195.3 470.2 194.8 470.8 194.7 471.4 195.3 472 195 472.6 195.7 473.2 194.1 473.8 196 474.4 194.5 475 195 475.6 196.1 476.2 195.4 476.8 194.4 477.4 193.9 478 196.1 478.6 196.1 479.2 195.3 479.8 195.7 480.4 195.7 481 194.1 481.6 194.6 482.2 195.1 482.8 195.4 483.4 195.7 484 195.4 484.6 138 485.2 138.2 485.8 138.3 486.4 146.7 487 153.2 487.6 156.9 488.2 158.9 488.8 165 489.4 169.2 490 172.8 490.6 175.5 491.2 178.8 491.8 180.7 492.4 183.3 493 183 493.6 185.3 494.2 186.9 494.8 187.5 495.4 188 496 189 496.6 191.3 497.2 192.3 497.8 192.9 498.4 192.9 499 193.2 499.6 194.4 500.2 194.6 500.8 195.2 501.4 195.8 502 195.6 502.6 195.4 503.2 195.5 503.8 194.8 504.4 195.8 505 195.6 505.6 196.1 506.2 196.2 506.8 196.1 507.4 195.8 508 194.4 508.6 195.1 509.2 194.8 509.8 195.9 510.4 196 511 195 511.6 195.7 512.2 195.4 512.8 194.2 513.4 195.5 514 196.2 514.6 195.4 515.2 195.1 515.8 195.3 516.4 196.3 517 195.7 517.6 195.7 518.2 195.1 518.8 195.3 519.4 194.2 520 195.1 520.6 195.2 521.2 193.5 521.8 111.8 522.4 111.8 523 111.8 523.6 119.9 524.2 140.9 524.8 146.2 525.4 152 526 156 526.6 162.5 527.2 166.5 527.8 170.4 528.4 171.7 529 176.9 529.6 179.8 530.2 182.3 530.8 183.5 531.4 183.2 532 186 532.6 187.5 533.2 188.1 533.8 190.6 534.4 189.1 535 190 535.6 191.4 536.2 191.7 536.8 193.8 537.4 193.9 538 194.9 538.6 193.7 539.2 195 539.8 196.4 540.4 193.3 541 196.2 541.6 196.2 542.2 195.3 542.8 196.2 543.4 194.8 544 195.4 544.6 195.5 545.2 194.7 545.8 195.1 546.4 195.6 547 195.6 547.6 195.1 548.2 194.8 548.8 196.1 549.4 195.2 550 195.2 550.6 195.1 551.2 194.9 551.8 194.7 552.4 195.9 553 195.7 553.6 194.7 554.2 195.8 554.8 194.7 555.4 195.1 556 194 556.6 193.3 557.2 195.2 557.8 196 558.4 197.1 559 195.3 559.6 197.4 560.2 111.8 560.8 111.8 561.4 111.8 562 111.8 562.6 136 563.2 143.9 563.8 149.1 564.4 154.7 565 159.8 565.6 165.5 566.2 168.3 566.8 171.7 567.4 177.9 568 179.1 568.6 180.3 569.2 183.3 569.8 184.3 570.4 185.9 571 185.6 571.6 187.5 572.2 189.9 572.8 190.6 573.4 190.2 574 191.1 574.6 192 575.2 194 575.8 192.7 576.4 193.6 577 193.7 577.6 192.9 578.2 195.9 578.8 195 579.4 195.5 580 195.9 580.6 195 581.2 196.1 581.8 196.2 582.4 195.8 583 195.6 583.6 196.1 584.2 194.6 584.8 194.6 585.4 195.1 586 195.4 586.6 196 587.2 194.5 587.8 195.9 588.4 195.7 589 194.9 589.6 196 590.2 195.3 590.8 196.1 591.4 195.6 592 195.8 592.6 194.7 593.2 195.9 593.8 195.2 594.4 195 595 194.8 595.6 197.6 596.2 196 596.8 195.4 597.4 196.5 598 111.8 598.6 111.8 599.2 111.8 599.8 115.8 600.4 140 601 145.5 601.6 151 602.2 155 602.8 161.3 603.4 165.4 604 171 604.6 172.9 605.2 176.1 605.8 178.1 606.4 181.1 607 182.9 607.6 182.9 608.2 185.7 608.8 185.5 609.4 187.9 610 187.6 610.6 189.9 611.2 191.3 611.8 192 612.4 193.7 613 193.7 613.6 194.2 614.2 193.5 614.8 195.1 615.4 194.4 616 197.3 616.6 195 617.2 194.5 617.8 197.2 618.4 194.6 619 195.4 619.6 195.5 620.2 196.9 620.8 195.6 621.4 194.5 622 194.9 622.6 194.7 623.2 195.8 623.8 194.1 624.4 194.8 625 195.5 625.6 194.8 626.2 196.6 626.8 195 627.4 196 628 194.8 628.6 195.5 629.2 194.8 629.8 195.3 630.4 196.1 631 197.7 631.6 195.7 632.2 195.2 632.8 194.6 633.4 196.4 634 193.9 634.6 195.2 635.2 193.8 635.8 195.3 636.4 196 637 195.5 637.6 197.5 638.2 138 638.8 138.1 639.4 138.3 640 144.6 640.6 150.1 641.2 155.3 641.2 235.2 640.6 241.5 640 247.5 639.4 252 638.8 257.2 638.2 257.7 637.6 208.1 637 208.1 636.4 207.5 635.8 206.5 635.2 207 634.6 207 634 207.6 633.4 207.7 632.8 209.1 632.2 208.9 631.6 207 631 207.1 630.4 206.7 629.8 205 629.2 206.5 628.6 207.4 628 209.3 627.4 206.9 626.8 207.4 626.2 206.5 625.6 208.3 625 206.7 624.4 207.7 623.8 206.7 623.2 206.8 622.6 207.9 622 207.4 621.4 207.2 620.8 209.3 620.2 207.1 619.6 207.5 619 206.7 618.4 206.4 617.8 207.7 617.2 207.7 616.6 207.9 616 208.7 615.4 208.3 614.8 208.5 614.2 209.4 613.6 209.3 613 209.5 612.4 209.8 611.8 210.4 611.2 210.2 610.6 211.7 610 211.7 609.4 211.7 608.8 214.8 608.2 214.4 607.6 216.6 607 216.7 606.4 217.5 605.8 221.2 605.2 221 604.6 222.3 604 225.7 603.4 228.6 602.8 231.3 602.2 234.9 601.6 240.2 601 246.7 600.4 251.1 599.8 257.1 599.2 257.6 598.6 207.2 598 207.9 597.4 207.2 596.8 206.7 596.2 207.1 595.6 208.3 595 207.8 594.4 207.6 593.8 206.6 593.2 207.7 592.6 208.7 592 207 591.4 207.2 590.8 208 590.2 207 589.6 208.1 589 206.9 588.4 208.6 587.8 208.7 587.2 208.1 586.6 207.6 586 207.1 585.4 205.8 584.8 207.7 584.2 207.8 583.6 207.2 583 207.5 582.4 206.4 581.8 206.6 581.2 207.6 580.6 207.9 580 206.8 579.4 207.7 578.8 207.5 578.2 207.7 577.6 209.2 577 209 576.4 208.9 575.8 210.1 575.2 209.1 574.6 209.8 574 210.7 573.4 210.4 572.8 211.7 572.2 212.2 571.6 212.9 571 212.7 570.4 214.6 569.8 214.3 569.2 217.3 568.6 218.6 568 219.6 567.4 222.1 566.8 222.8 566.2 225.4 565.6 228.6 565 232 564.4 236.6 563.8 241 563.2 247.1 562.6 252 562 257.2 561.4 257.7 560.8 206.5 560.2 207.1 559.6 208.8 559 208.8 558.4 207.8 557.8 208 557.2 206.6 556.6 207.7 556 206.8 555.4 206.7 554.8 207.1 554.2 207.2 553.6 206.7 553 208.1 552.4 205.5 551.8 208 551.2 207.1 550.6 207.9 550 208.2 549.4 206.5 548.8 206 548.2 208 547.6 207.8 547 207.7 546.4 205.7 545.8 206.7 545.2 208.7 544.6 206.6 544 206.4 543.4 208 542.8 205.7 542.2 207.2 541.6 207.3 541 207.7 540.4 208 539.8 208.3 539.2 208.7 538.6 208.3 538 209.3 537.4 210.4 536.8 209 536.2 209.8 535.6 211 535 211.3 534.4 211.6 533.8 212.4 533.2 212 532.6 213.1 532 213.7 531.4 214.7 530.8 215.4 530.2 215.8 529.6 218.8 529 220.4 528.4 222.5 527.8 224.4 527.2 226 526.6 230.8 526 234.4 525.4 239.2 524.8 244.4 524.2 250.5 523.6 257 523 257.5 522.4 258 521.8 207.8 521.2 206.9 520.6 208.3 520 206.1 519.4 207.4 518.8 207 518.2 208.2 517.6 206.4 517 206 516.4 206.9 515.8 207.9 515.2 207.7 514.6 206.8 514 207 513.4 206.1 512.8 206.7 512.2 207.1 511.6 206.5 511 206.8 510.4 206.1 509.8 209.2 509.2 205.7 508.6 207.2 508 207.1 507.4 207 506.8 207.1 506.2 208 505.6 207.4 505 208 504.4 207.3 503.8 207.5 503.2 207.1 502.6 208 502 207.8 501.4 209.1 500.8 209.1 500.2 208.2 499.6 209.5 499 209.6 498.4 209.5 497.8 209.9 497.2 210.8 496.6 211.5 496 211.6 495.4 211.2 494.8 213 494.2 212.8 493.6 215 493 214.8 492.4 217 491.8 219.5 491.2 221 490.6 220.8 490 223.2 489.4 225.7 488.8 227.4 488.2 231.7 487.6 236.6 487 240.6 486.4 245.7 485.8 251.1 485.2 257.1 484.6 257.6 484 206.4 483.4 206.9 482.8 207.2 482.2 208 481.6 207.2 481 206.1 480.4 206.9 479.8 209.2 479.2 207.3 478.6 207.7 478 208.1 477.4 207.4 476.8 205.9 476.2 207 475.6 208 475 208.1 474.4 208.1 473.8 208.4 473.2 207 472.6 206.3 472 207.6 471.4 205.6 470.8 207.8 470.2 206.7 469.6 207.4 469 207.6 468.4 206.5 467.8 206.7 467.2 208 466.6 205.8 466 206.9 465.4 208 464.8 207.4 464.2 207.6 463.6 208 463 208.5 462.4 208.7 461.8 208.8 461.2 209.2 460.6 208.9 460 209.2 459.4 210.9 458.8 210.6 458.2 210.4 457.6 211.1 457 212.4 456.4 212.4 455.8 213.3 455.2 213.7 454.6 215.8 454 216.5 453.4 217.7 452.8 219.9 452.2 221.3 451.6 223.4 451 225 450.4 229 449.8 231.4 449.2 236.1 448.6 240.7 448 247.5 447.4 252 446.8 257.2 446.2 257.7 445.6 207.1 445 206.7 444.4 207.7 443.8 208.5 443.2 207.8 442.6 207.2 442 208 441.4 206.6 440.8 207.7 440.2 208.1 439.6 206.6 439 207.5 438.4 207.9 437.8 205.9 437.2 206.9 436.6 206.7 436 207.9 435.4 206.5 434.8 206.6 434.2 207 433.6 207.2 433 207 432.4 209.1 431.8 207.3 431.2 206.7 430.6 207 430 207.4 429.4 207.5 428.8 207.9 428.2 205.3 427.6 207.8 427 207 426.4 207.2 425.8 209 425.2 208 424.6 208.2 424 208.6 423.4 209 422.8 211.4 422.2 209 421.6 210.8 421 210 420.4 211.5 419.8 210.2 419.2 211.9 418.6 211.1 418 212.4 417.4 213.7 416.8 214.7 416.2 214.9 415.6 217.1 415 219.6 414.4 218.8 413.8 221.6 413.2 222.1 412.6 225.5 412 227.2 411.4 231.7 410.8 235 410.2 240.5 409.6 246.4 409 251.1 408.4 257.1 407.8 257.6 407.2 207.3 406.6 207.1 406 206.9 405.4 206.8 404.8 206.7 404.2 207.1 403.6 206.9 403 206.4 402.4 206.5 401.8 207.3 401.2 208 400.6 207.3 400 207.9 399.4 205.9 398.8 206.5 398.2 208.1 397.6 206.6 397 207.1 396.4 208.1 395.8 206.9 395.2 206.5 394.6 207.7 394 207.6 393.4 206.6 392.8 206.6 392.2 206.2 391.6 207.8 391 205.7 390.4 208.1 389.8 206.9 389.2 209 388.6 207.2 388 207.3 387.4 208.5 386.8 208.5 386.2 209.2 385.6 208.2 385 209.8 384.4 208.9 383.8 209.6 383.2 209.9 382.6 210.5 382 210.8 381.4 210.6 380.8 210.8 380.2 211.4 379.6 213.2 379 214.1 378.4 216.1 377.8 215.4 377.2 217 376.6 219.6 376 219.7 375.4 222.7 374.8 223.1 374.2 226.5 373.6 230 373 233.1 372.4 237.8 371.8 242.2 371.2 249 370.6 254.5 370 257.3 369.4 257.8 368.8 208.2 368.2 207.7 367.6 207.1 367 208.9 366.4 207.9 365.8 208 365.2 206.7 364.6 207.5 364 208.1 363.4 204.8 362.8 207.1 362.2 207.2 361.6 207.5 361 207.7 360.4 207.8 359.8 208 359.2 205.8 358.6 207.2 358 207.6 357.4 207.2 356.8 207.6 356.2 206.4 355.6 207.2 355 207.4 354.4 205.3 353.8 207.3 353.2 207.2 352.6 206.7 352 206.8 351.4 209.8 350.8 208 350.2 206.6 349.6 207.3 349 207.3 348.4 208 347.8 208.5 347.2 209.6 346.6 209.8 346 209.8 345.4 209.1 344.8 209.8 344.2 211.5 343.6 211.5 343 210.9 342.4 211.1 341.8 212.1 341.2 213.4 340.6 214.9 340 215.8 339.4 215.2 338.8 218 338.2 220 337.6 221.8 337 223.5 336.4 226.3 335.8 228.1 335.2 230.7 334.6 234.7 334 239.2 333.4 245.2 332.8 251.1 332.2 257.1 331.6 257.6 331 206.6 330.4 206.7 329.8 206.1 329.2 208.1 328.6 207 328 207.5 327.4 206.6 326.8 207.7 326.2 206.6 325.6 204.8 325 208.1 324.4 209.1 323.8 208.4 323.2 206.6 322.6 207.2 322 208.1 321.4 207.4 320.8 208 320.2 205.6 319.6 207.3 319 208 318.4 206.8 317.8 207.8 317.2 207.9 316.6 207.3 316 206.8 315.4 208 314.8 206.9 314.2 206.5 313.6 206.5 313 208.5 312.4 206.7 311.8 207 311.2 206.6 310.6 207.6 310 207.5 309.4 208.3 308.8 209.4 308.2 209.4 307.6 209.4 307 209.3 306.4 209.2 305.8 209.7 305.2 210.9 304.6 211.1 304 211.1 303.4 211 302.8 212.2 302.2 213.6 301.6 214.9 301 215.6 300.4 215.9 299.8 217.9 299.2 219.5 298.6 221.1 298 222.8 297.4 225.4 296.8 228.1 296.2 230.9 295.6 233.3 295 240.2 294.4 246.7 293.8 251.1 293.2 257.1 292.6 257.6 292 206.7 291.4 207.2 290.8 206.7 290.2 206.8 289.6 208.1 289 206.8 288.4 207 287.8 207.4 287.2 207.5 286.6 208.4 286 208.5 285.4 206.7 284.8 207 284.2 206.6 283.6 207.9 283 205.2 282.4 209.1 281.8 207.1 281.2 206.5 280.6 206.6 280 206.9 279.4 207 278.8 206.7 278.2 207.8 277.6 206.5 277 207.7 276.4 206.4 275.8 207.4 275.2 206.5 274.6 206.5 274 207.1 273.4 209.9 272.8 207 272.2 208.5 271.6 207.9 271 207.5 270.4 208.9 269.8 208.6 269.2 208.4 268.6 209.3 268 210.1 267.4 210.4 266.8 210.8 266.2 210 265.6 211.6 265 211.7 264.4 211.8 263.8 213.4 263.2 214.3 262.6 214.4 262 216.2 261.4 216.7 260.8 218.3 260.2 220.3 259.6 221.9 259 223.7 258.4 227.1 257.8 230.3 257.2 234 256.6 236.4 256 243.6 255.4 249.6 254.8 255.8 254.2 257.4 253.6 257.9 253 207.2 252.4 207.3 251.8 204.8 251.2 206.7 250.6 206.9 250 207 249.4 207.5 248.8 206.8 248.2 207.9 247.6 206.8 247 206.8 246.4 207.8 245.8 206.8 245.2 209.8 244.6 207.1 244 206.9 243.4 206.5 242.8 208.1 242.2 207.1 241.6 205.3 241 207.1 240.4 207.2 239.8 206.4 239.2 206.7 238.6 207 238 206.8 237.4 206.7 236.8 206.8 236.2 207.7 235.6 208.1 235 207.9 234.4 208 233.8 209 233.2 207.9 232.6 207.6 232 208.3 231.4 208 230.8 208.5 230.2 208.5 229.6 208.8 229 209.2 228.4 211 227.8 210.4 227.2 209.6 226.6 212.1 226 211.5 225.4 211.9 224.8 213.7 224.2 214.9 223.6 216.1 223 216.7 222.4 217.8 221.8 220.6 221.2 222.1 220.6 223.3 220 226.8 219.4 228.5 218.8 231.7 218.2 236.9 217.6 241.4 217 246.9 216.4 253.3 215.8 257.3 215.2 257.8 214.6 209.2 214 208.2 213.4 207.5 212.8 207.8 212.2 205.9 211.6 207.4 211 208.2 210.4 207.8 209.8 207.9 209.2 207.1 208.6 206.7 208 208 207.4 206.9 206.8 209.3 206.2 208.1 205.6 205.5 205 207.2 204.4 207.3 203.8 207 203.2 209.1 202.6 207 202 208.3 201.4 206.8 200.8 206.2 200.2 207.8 199.6 207.8 199 207.7 198.4 206.6 197.8 207.4 197.2 207 196.6 208.2 196 207.8 195.4 207.4 194.8 208.1 194.2 210 193.6 208 193 209 192.4 209.6 191.8 211.6 191.2 210 190.6 210.4 190 211.4 189.4 211.9 188.8 210.8 188.2 211.9 187.6 212.3 187 214.1 186.4 213.9 185.8 216 185.2 216.6 184.6 217.7 184 220.2 183.4 221.2 182.8 222.8 182.2 226.2 181.6 228.2 181 232.4 180.4 236.9 179.8 241.5 179.2 247.6 178.6 253.3 178 257.3 177.4 257.8 176.8 207.6 176.2 206.1 175.6 207.2 175 207.3 174.4 206.9 173.8 207 173.2 207.5 172.6 206.4 172 208 171.4 206.5 170.8 206.6 170.2 206.8 169.6 209.3 169 205 168.4 207.9 167.8 206.6 167.2 207.8 166.6 206.8 166 205.6 165.4 207.7 164.8 207.9 164.2 206.6 163.6 206.6 163 208.6 162.4 206.5 161.8 207.4 161.2 205.4 160.6 207.1 160 206.7 159.4 208.6 158.8 209.8 158.2 207.9 157.6 207.9 157 208.5 156.4 208 155.8 208.6 155.2 208.7 154.6 209.2 154 209.2 153.4 210.3 152.8 210.7 152.2 211.4 151.6 211.1 151 211.7 150.4 212.8 149.8 214.2 149.2 214.4 148.6 216.4 148 217.1 147.4 218.3 146.8 219.8 146.2 221.3 145.6 224.6 145 226.6 144.4 229.5 143.8 233.1 143.2 238 142.6 242.4 142 248.3 141.4 254.5 140.8 257.3 140.2 257.8 139.6 207.2 139 206.6 138.4 207.8 137.8 207.1 137.2 209.5 136.6 207.9 136 207.5 135.4 209.1 134.8 206.8 134.2 208.4 133.6 205.7 133 205.6 132.4 205.4 131.8 207.3 131.2 208.6 130.6 206.5 130 207.2 129.4 208 128.8 205.6 128.2 207 127.6 208 127 208.2 126.4 207.6 125.8 207.7 125.2 207 124.6 207.3 124 206.9 123.4 206.8 122.8 207.8 122.2 207.3 121.6 207.5 121 207 120.4 208.1 119.8 208.1 119.2 206.8 118.6 209 118 208.9 117.4 208.2 116.8 208.5 116.2 208.9 115.6 209.5 115 209.6 114.4 211.3 113.8 210.8 113.2 209.3 112.6 212.1 112 212.2 111.4 212.4 110.8 214.2 110.2 215.4 109.6 215.4 109 217.5 108.4 217.6 107.8 219.9 107.2 221.8 106.6 225 106 226.7 105.4 229.4 104.8 232.9 104.2 238.8 103.6 244.7 103 248.8 102.4 255.8 101.8 257.4 101.2 257.9 100.6 208.1 100 206.9 99.4 207.1 98.8 207.9 98.2 208.1 97.6 208.1 97 206.9 96.4 206.6 95.8 206.6 95.2 208 94.6 207.1 94 206.7 93.4 207 92.8 207.8 92.2 207.1 91.6 208.1 91 209.3 90.4 207.7 89.8 206.7 89.2 207.9 88.6 207.5 88 207.8 87.4 207.6 86.8 205.8 86.2 206.9 85.6 207 85 206.7 84.4 206.5 83.8 207.8 83.2 207.9 82.6 206.7 82 206.6 81.4 206.7 80.8 207.2 80.2 207.8 79.6 208.1 79 208.4 78.4 209.5 77.8 209.8 77.2 209.5 76.6 209.5 76 210 75.4 209.8 74.8 211.4 74.2 210.9 73.6 211.6 73 212.7 72.4 212.3 71.8 214 71.2 213.2 70.6 215.3 70 216.4 69.4 218 68.8 220.5 68.2 221.2 67.6 224.2 67 226.4 66.4 228.7 65.8 232.6 65.2 238 64.6 242.7 64 249.1 63.4 254.5 62.8 257.3 62.2 257.8 61.6 209 61 208.6 60.4 207.2 59.8 207.9 59.2 207.7 58.6 208.1 58 208 57.4 207.1 56.8 207.9 56.2 207.6 55.6 207.7 55 207 54.4 206.5 53.8 208.1 53.2 206.6 52.6 207.7 52 207.2 51.4 205.8 50.8 207.6 50.2 205.5 49.6 205.6 49 207 48.4 207.7 47.8 206.7 47.2 206.8 46.6 207.6 46 205.3 45.4 207.2 44.8 205.5 44.2 207.8 43.6 206.8 43 207.9 42.4 207.7 41.8 205.2 41.2 207.7 40.6 207.7 40 207.7 39.4 208.7 38.8 209 38.2 209.6 37.6 209.1 37 210.6 36.4 210 35.8 211 35.2 210.5 34.6 211.5 34 210.5 33.4 212.3 32.8 213.4 32.2 213.6 31.6 215.3 31 217.9 30.4 217 29.8 219.1 29.2 220.1 28.6 222.3 28 223.6 27.4 229.1 26.8 232.3 26.2 234.9 25.6 238.2 25 243.2 24.4 249.7 23.8 257 23.2 257.5 22.6 258 22 206.2 21.4 205.4 20.8 206 20.2 207.2 19.6 206.9 19 208 18.4 204.9 17.8 207.5 17.2 208.1 16.6 206.4 16 207.7 15.4 206.7 14.8 206.4 14.2 206.6Z" fill="#ff0080"/>
<path d="M23.1 256V266.6M62.5 256V266.6M101.6 256V266.6M140.5 256V266.6M177.6 256V267M177 113.8V197M215.4 256V266.4M254 256V267M253.4 109.5V197M292.6 256V266.4M292 111.2V197M331.6 256V270.2M369.7 256V270.2M369.1 113V197M407.8 256V266.4M446.3 256V264.2M445.7 111.3V197M484.6 256V266.4M484 113.8V197M522.9 256V267M561.5 256V266.4M599.2 256V267M638.3 256V266M637.7 112.5V197" stroke="#ff0080" stroke-width="1.2" opacity=".65" fill="none"/>
<path d="M14.2 346.9 14.7 346.9 15.2 346.4 15.7 345.9 16.2 346.8 16.7 347 17.2 346.9 17.7 346.8 18.2 348 18.7 346.6 19.2 346.6 19.7 346.9 20.2 346.9 20.7 348.2 21.2 347.6 21.7 347.5 22.2 348.3 22.7 348.8 23.2 347.3 23.7 346.9 24.2 342.9 24.7 343 25.2 343.4 25.7 345 26.2 344.6 26.7 344.9 27.2 344.6 27.7 346.6 28.2 346.6 28.7 345.8 29.2 344.1 29.7 346.3 30.2 345.6 30.7 346.3 31.2 346.1 31.7 346.1 32.2 346 32.7 346 33.2 346.1 33.7 344.5 34.2 346.1 34.7 345.8 35.2 346.9 35.7 344.7 36.2 347 36.7 347.5 37.2 344.7 37.7 345.8 38.2 346 38.7 346.1 39.2 346.9 39.7 346.4 40.2 346.6 40.7 345.9 41.2 345.7 41.7 346.2 42.2 345.9 42.7 346.2 43.2 346.6 43.7 346.7 44.2 346.8 44.7 346.2 45.2 346.2 45.7 346.8 46.2 346.6 46.7 346.3 47.2 346.2 47.7 346.6 48.2 345.9 48.7 346.3 49.2 346.9 49.7 344.6 50.2 346.8 50.7 347.9 51.2 346.4 51.7 346.2 52.2 346 52.7 347 53.2 346 53.7 345.9 54.2 346.7 54.7 346.5 55.2 345.2 55.7 346.2 56.2 346.3 56.7 347.1 57.2 346 57.7 345.1 58.2 347.5 58.7 345 59.2 345.9 59.7 346.7 60.2 347.5 60.7 347.4 61.2 348.3 61.7 349.3 62.2 346.3 62.7 346.4 63.2 346.2 63.7 342.8 64.2 344.8 64.7 343.8 65.2 343.9 65.7 343.6 66.2 345.6 66.7 345.8 67.2 344.1 67.7 345.1 68.2 345.8 68.7 345.7 69.2 345.1 69.7 346.4 70.2 346.5 70.7 345.4 71.2 345.5 71.7 346.2 72.2 345.7 72.7 347.3 73.2 346.6 73.7 345.6 74.2 344.8 74.7 346.8 75.2 345.9 75.7 345.8 76.2 346.6 76.7 346.2 77.2 346.1 77.7 346.4 78.2 345.9 78.7 346.3 79.2 346.4 79.7 346.3 80.2 345.2 80.7 345.7 81.2 346.6 81.7 346.3 82.2 346.2 82.7 345.4 83.2 346.9 83.7 345.9 84.2 346.8 84.7 346.5 85.2 346.5 85.7 346.5 86.2 346.2 86.7 346.5 87.2 346.4 87.7 346.6 88.2 345.9 88.7 347.1 89.2 347.1 89.7 347 90.2 346.6 90.7 346.2 91.2 346.3 91.7 345.9 92.2 346.7 92.7 345.8 93.2 346.8 93.7 347.7 94.2 344.8 94.7 347 95.2 347 95.7 346.5 96.2 346.3 96.7 346.2 97.2 346 97.7 346 98.2 346.9 98.7 346.6 99.2 347.3 99.7 347.2 100.2 348.4 100.7 348.8 101.2 349.9 101.7 345.9 102.2 347.4 102.7 343.8 103.2 343.1 103.7 345.7 104.2 344.5 104.7 345.7 105.2 343.5 105.7 344.8 106.2 345.3 106.7 345.5 107.2 345.8 107.7 345 108.2 345.8 108.7 346.3 109.2 346.6 109.7 345.2 110.2 346.6 110.7 345.9 111.2 347.8 111.7 346.4 112.2 346 112.7 345.9 113.2 347.4 113.7 345.8 114.2 345.8 114.7 346 115.2 346.7 115.7 345.3 116.2 345.7 116.7 346 117.2 346.6 117.7 346 118.2 346.1 118.7 345.2 119.2 346 119.7 346.4 120.2 346.6 120.7 345.9 121.2 346.8 121.7 346.3 122.2 346.8 122.7 345.7 123.2 345.9 123.7 345.7 124.2 346.6 124.7 346.7 125.2 345.9 125.7 346.6 126.2 346.3 126.7 346.8 127.2 344.7 127.7 345.8 128.2 346.9 128.7 346.4 129.2 346.4 129.7 346.4 130.2 345.2 130.7 346.3 131.2 347.5 131.7 345.7 132.2 346.9 132.7 345.9 133.2 347 133.7 345.9 134.2 346.8 134.7 346.7 135.2 346.9 135.7 345.8 136.2 345.7 136.7 346 137.2 345.2 137.7 347.1 138.2 347 138.7 347.6 139.2 348.4 139.7 348.9 140.2 345.3 140.7 346.1 141.2 346 141.7 343.1 142.2 345.8 142.7 342.9 143.2 344.2 143.7 344.8 144.2 344.9 144.7 345.1 145.2 345.9 145.7 345.6 146.2 345.6 146.7 345.3 147.2 346.4 147.7 346.8 148.2 345.6 148.7 346.3 149.2 346.4 149.7 346.1 150.2 345.9 150.7 346.5 151.2 346.2 151.7 346 152.2 345.9 152.7 345.7 153.2 346.5 153.7 347.2 154.2 346.2 154.7 346.6 155.2 347.7 155.7 345.8 156.2 346.7 156.7 347.4 157.2 344.2 157.7 346.1 158.2 347.9 158.7 347.5 159.2 345.9 159.7 346.3 160.2 345.8 160.7 346.3 161.2 346.9 161.7 345.8 162.2 345.4 162.7 346.1 163.2 346.1 163.7 346.2 164.2 346 164.7 346.6 165.2 346.2 165.7 345.9 166.2 346.9 166.7 346.2 167.2 346.7 167.7 345.4 168.2 345.9 168.7 345.8 169.2 346.7 169.7 347.4 170.2 346.5 170.7 346 171.2 346.6 171.7 346.8 172.2 346.8 172.7 346.3 173.2 346.3 173.7 346.5 174.2 345.8 174.7 347.4 175.2 346.8 175.7 347 176.2 347.4 176.7 349.1 177.2 349.7 177.7 346 178.2 348.3 178.7 342.3 179.2 344 179.7 345.1 180.2 343.9 180.7 344.3 181.2 345.8 181.7 345.5 182.2 344.7 182.7 344.8 183.2 345.1 183.7 346.1 184.2 346.5 184.7 348.1 185.2 345.5 185.7 345.4 186.2 344.1 186.7 346.4 187.2 346.4 187.7 347.5 188.2 347.4 188.7 346.7 189.2 344.6 189.7 346 190.2 346.8 190.7 347 191.2 347.8 191.7 346.6 192.2 346.3 192.7 346.4 193.2 346.7 193.7 347 194.2 346 194.7 346.9 195.2 345.8 195.7 345.2 196.2 346.3 196.7 346 197.2 345.7 197.7 346.9 198.2 346.3 198.7 346.3 199.2 345.9 199.7 347.2 200.2 347 200.7 346.5 201.2 346.8 201.7 346.9 202.2 346.7 202.7 346.9 203.2 345.8 203.7 346.7 204.2 345.9 204.7 346.3 205.2 346.2 205.7 345.1 206.2 346.4 206.7 346.5 207.2 347.7 207.7 346.5 208.2 345.2 208.7 346.7 209.2 346.4 209.7 345.3 210.2 346.4 210.7 347.2 211.2 346.2 211.7 347.9 212.2 346.8 212.7 347.8 213.2 348.3 213.7 347.6 214.2 348.5 214.7 348.4 215.2 346.1 215.7 346.4 216.2 346.2 216.7 343.1 217.2 343.2 217.7 343.7 218.2 345.6 218.7 343.6 219.2 345.2 219.7 345.4 220.2 344.7 220.7 345.9 221.2 345.3 221.7 345.2 222.2 345.6 222.7 346.9 223.2 345.4 223.7 345.8 224.2 346.3 224.7 346 225.2 345.7 225.7 345.7 226.2 346.4 226.7 346.3 227.2 347.1 227.7 346.8 228.2 346.8 228.7 346.9 229.2 346.4 229.7 346.2 230.2 347.3 230.7 346.4 231.2 346.9 231.7 346.8 232.2 347.1 232.7 345.3 233.2 345.9 233.7 345.9 234.2 346.9 234.7 345 235.2 346.9 235.7 345.9 236.2 346.2 236.7 346.3 237.2 346.4 237.7 346.5 238.2 346.8 238.7 346.9 239.2 346.7 239.7 347 240.2 346.9 240.7 347.2 241.2 346.9 241.7 345.8 242.2 346 242.7 347.2 243.2 345.7 243.7 344.8 244.2 346.5 244.7 346.1 245.2 346.4 245.7 347.9 246.2 346.5 246.7 346.5 247.2 346 247.7 346.3 248.2 345.7 248.7 347.9 249.2 346.8 249.7 346.1 250.2 346.3 250.7 345.7 251.2 345.9 251.7 346.1 252.2 347.8 252.7 348.4 253.2 349.9 253.7 346 254.2 346.3 254.7 346.6 255.2 344 255.7 344.2 256.2 342.8 256.7 344.2 257.2 344.8 257.7 345.2 258.2 344.6 258.7 344.9 259.2 345.7 259.7 345.3 260.2 345.2 260.7 346.4 261.2 346.3 261.7 345.7 262.2 345.6 262.7 345.6 263.2 346.2 263.7 346.7 264.2 346.8 264.7 346.5 265.2 346.4 265.7 345.7 266.2 347.1 266.7 346.1 267.2 346.4 267.7 347.8 268.2 346.5 268.7 346.2 269.2 346.2 269.7 346.6 270.2 345.8 270.7 346.3 271.2 346.8 271.7 345.8 272.2 345.8 272.7 346.4 273.2 345.8 273.7 346.1 274.2 346.2 274.7 346.2 275.2 345.7 275.7 346.7 276.2 346.9 276.7 345.9 277.2 346.8 277.7 346.6 278.2 347.2 278.7 346.7 279.2 347.9 279.7 346.6 280.2 345.3 280.7 346.6 281.2 346.4 281.7 346.4 282.2 346.2 282.7 346.5 283.2 347.9 283.7 346.7 284.2 347 284.7 346 285.2 346.1 285.7 346.2 286.2 346.5 286.7 347.7 287.2 345.8 287.7 344.9 288.2 346 288.7 345.9 289.2 345.7 289.7 347 290.2 346.7 290.7 347 291.2 348.6 291.7 348.8 292.2 348.9 292.7 345.9 293.2 346.2 293.7 343.5 294.2 343.8 294.7 344.7 295.2 344.2 295.7 344.5 296.2 344.4 296.7 345.6 297.2 345.3 297.7 345.4 298.2 344.8 298.7 346.8 299.2 345.5 299.7 346.6 300.2 346.4 300.7 346.4 301.2 346.1 301.7 345.5 302.2 345.5 302.7 346.7 303.2 346 303.7 348.4 304.2 346.2 304.7 347 305.2 346.7 305.7 348.4 306.2 346.9 306.7 345.7 307.2 345.9 307.7 346.1 308.2 346.6 308.7 346 309.2 346.8 309.7 346.1 310.2 346.3 310.7 345.9 311.2 345.1 311.7 346.6 312.2 345.8 312.7 346.3 313.2 347 313.7 346.7 314.2 344.2 314.7 346.7 315.2 346.6 315.7 346.7 316.2 346.4 316.7 346.3 317.2 344.9 317.7 346.7 318.2 346.9 318.7 347.5 319.2 344.6 319.7 345.8 320.2 345.9 320.7 346.6 321.2 347 321.7 346.6 322.2 346 322.7 345.9 323.2 345.8 323.7 346.2 324.2 346.9 324.7 346.1 325.2 346.1 325.7 346.1 326.2 346 326.7 346.2 327.2 346.8 327.7 346.1 328.2 345.1 328.7 346.7 329.2 346.3 329.7 348.7 330.2 347.9 330.7 350.6 331.2 349 331.7 346.9 332.2 345.4 332.7 343 333.2 344.8 333.7 344.6 334.2 345.2 334.7 344.4 335.2 344.9 335.7 345.3 336.2 345.4 336.7 346.2 337.2 345.6 337.7 346.1 338.2 345 338.7 345.9 339.2 346 339.7 346.1 340.2 346 340.7 345.9 341.2 347.9 341.7 346.3 342.2 345.7 342.7 346 343.2 347.4 343.7 346 344.2 346.9 344.7 346.9 345.2 345.9 345.7 346.2 346.2 345.9 346.7 346.7 347.2 345.3 347.7 346.2 348.2 346.6 348.7 345.2 349.2 346.7 349.7 346.7 350.2 346.2 350.7 346.9 351.2 346.6 351.7 345.8 352.2 346 352.7 346.8 353.2 346.4 353.7 346 354.2 346.8 354.7 346.8 355.2 347.8 355.7 345.1 356.2 346.8 356.7 346.6 357.2 346 357.7 345.8 358.2 346.2 358.7 347.3 359.2 346.7 359.7 345.4 360.2 345.9 360.7 347.4 361.2 346.1 361.7 346.2 362.2 346 362.7 346.5 363.2 346.6 363.7 346.7 364.2 345.6 364.7 346.2 365.2 347 365.7 345.8 366.2 346.5 366.7 346.1 367.2 346.6 367.7 348.5 368.2 347.8 368.7 349.1 369.2 348.9 369.7 346.3 370.2 346.1 370.7 342.1 371.2 343.5 371.7 345.1 372.2 343.3 372.7 344 373.2 345 373.7 345.4 374.2 345.5 374.7 346 375.2 345 375.7 345.8 376.2 345.7 376.7 344.4 377.2 345.6 377.7 344.8 378.2 346.2 378.7 346.6 379.2 345.9 379.7 345.2 380.2 346.2 380.7 346.3 381.2 345.8 381.7 347.6 382.2 348.1 382.7 345.9 383.2 346.8 383.7 346.3 384.2 345.7 384.7 344.8 385.2 345.9 385.7 345.9 386.2 346 386.7 346.6 387.2 346.1 387.7 346.3 388.2 346.2 388.7 346.7 389.2 346.5 389.7 346.9 390.2 346.5 390.7 346.7 391.2 345.9 391.7 346.4 392.2 347.2 392.7 346.6 393.2 345.5 393.7 346.4 394.2 345.4 394.7 345.9 395.2 345.8 395.7 346 396.2 346.3 396.7 345.6 397.2 345.9 397.7 345.2 398.2 346.9 398.7 346.5 399.2 346.9 399.7 346.2 400.2 348 400.7 346.5 401.2 345.7 401.7 346.8 402.2 345.7 402.7 346.4 403.2 346.9 403.7 346.4 404.2 346.7 404.7 346.4 405.2 346.7 405.7 347.2 406.2 348 406.7 348.5 407.2 349.6 407.7 346 408.2 346.9 408.7 343 409.2 343.2 409.7 344.2 410.2 344.5 410.7 343.6 411.2 344.8 411.7 345.2 412.2 345.4 412.7 347.6 413.2 345.9 413.7 345.5 414.2 345.5 414.7 345.2 415.2 345.4 415.7 346.5 416.2 346.6 416.7 346 417.2 345.5 417.7 346.6 418.2 346.7 418.7 346.1 419.2 346.2 419.7 346 420.2 346.7 420.7 346.4 421.2 347 421.7 346.5 422.2 346 422.7 346.1 423.2 346.5 423.7 345.6 424.2 346.8 424.7 344.8 425.2 346.4 425.7 346.6 426.2 346.2 426.7 346.1 427.2 346.8 427.7 345.5 428.2 344.9 428.7 346.9 429.2 346.8 429.7 345.8 430.2 345.3 430.7 346 431.2 346.6 431.7 346 432.2 345.9 432.7 344.8 433.2 345.9 433.7 346.8 434.2 346.2 434.7 347.6 435.2 346.4 435.7 346 436.2 346.1 436.7 345.4 437.2 345.2 437.7 346.2 438.2 346.4 438.7 346.6 439.2 346.7 439.7 346.7 440.2 347.9 440.7 347.5 441.2 346.3 441.7 345.9 442.2 345.7 442.7 346.5 443.2 346.7 443.7 347.2 444.2 347.6 444.7 347.2 445.2 349.7 445.7 349.3 446.2 346.8 446.7 345.7 447.2 342.7 447.7 343.4 448.2 344.3 448.7 344.8 449.2 344.8 449.7 345.3 450.2 344.6 450.7 345.3 451.2 345 451.7 345.7 452.2 345.2 452.7 345.7 453.2 347.4 453.7 346.4 454.2 345.5 454.7 346.2 455.2 346.6 455.7 346.5 456.2 345.5 456.7 346.6 457.2 345.7 457.7 346.5 458.2 346.3 458.7 346.2 459.2 346.1 459.7 346.2 460.2 347.5 460.7 346.8 461.2 346.2 461.7 346.8 462.2 346.3 462.7 346.1 463.2 346.1 463.7 346.9 464.2 348.2 464.7 346.7 465.2 345.9 465.7 346.3 466.2 346.7 466.7 346.8 467.2 347 467.7 346 468.2 345.2 468.7 346.1 469.2 346.2 469.7 346.1 470.2 346.3 470.7 347 471.2 346.3 471.7 346.8 472.2 346.2 472.7 347.8 473.2 346.4 473.7 346.5 474.2 346.3 474.7 348.4 475.2 346.5 475.7 346.5 476.2 346.7 476.7 345 477.2 346.9 477.7 346.2 478.2 346 478.7 347.4 479.2 346.4 479.7 346.9 480.2 345.3 480.7 346.1 481.2 345.9 481.7 347.4 482.2 346.7 482.7 346.6 483.2 348.3 483.7 349.3 484.2 349.5 484.7 346 485.2 347 485.7 343.7 486.2 345 486.7 344.3 487.2 344.7 487.7 345.7 488.2 344.6 488.7 343.6 489.2 346.5 489.7 345.6 490.2 345.8 490.7 345.8 491.2 345.4 491.7 345.4 492.2 346.3 492.7 346.6 493.2 346.8 493.7 346.6 494.2 345.9 494.7 346.2 495.2 346.4 495.7 346.7 496.2 345.9 496.7 346 497.2 346.3 497.7 345.8 498.2 346.9 498.7 346.7 499.2 347 499.7 346.9 500.2 346.7 500.7 347 501.2 346.7 501.7 345.7 502.2 347.2 502.7 346.6 503.2 345.6 503.7 346.4 504.2 346.2 504.7 346.1 505.2 346.7 505.7 346.3 506.2 346.9 506.7 346.2 507.2 346.2 507.7 346.6 508.2 346 508.7 346.8 509.2 345.9 509.7 345.9 510.2 345.3 510.7 346.4 511.2 346.5 511.7 346.8 512.2 346.3 512.7 346.7 513.2 345.8 513.7 345 514.2 344.9 514.7 347.3 515.2 346.9 515.7 346.4 516.2 346.6 516.7 346.2 517.2 345.5 517.7 346.5 518.2 346 518.7 346.2 519.2 346 519.7 346.1 520.2 346.1 520.7 346.8 521.2 347.4 521.7 347.8 522.2 349.1 522.7 346.4 523.2 346.8 523.7 346.4 524.2 343.3 524.7 343.7 525.2 344.2 525.7 345.2 526.2 345 526.7 344.6 527.2 345.3 527.7 345 528.2 345.8 528.7 345.4 529.2 345.2 529.7 345.3 530.2 345.4 530.7 345.5 531.2 345.4 531.7 347.3 532.2 346.2 532.7 348.1 533.2 345.8 533.7 347.3 534.2 345 534.7 345.1 535.2 346.6 535.7 344.9 536.2 346.7 536.7 346.7 537.2 346.7 537.7 346.4 538.2 346.4 538.7 346 539.2 346.7 539.7 346.4 540.2 345.7 540.7 345.1 541.2 346 541.7 346.8 542.2 346.8 542.7 345.9 543.2 345.8 543.7 346.3 544.2 346.2 544.7 346.1 545.2 345.7 545.7 347 546.2 348.1 546.7 346.1 547.2 346.2 547.7 346.9 548.2 345.8 548.7 346.8 549.2 346 549.7 346.5 550.2 345.9 550.7 348 551.2 346 551.7 346.2 552.2 347.2 552.7 346.8 553.2 346.3 553.7 346.3 554.2 346.9 554.7 345.9 555.2 346.8 555.7 346.4 556.2 346.3 556.7 346.8 557.2 346.1 557.7 346.3 558.2 345.9 558.7 347.4 559.2 346.9 559.7 347.7 560.2 348.2 560.7 348.9 561.2 346.7 561.7 345.9 562.2 345.8 562.7 343.5 563.2 343.6 563.7 344.2 564.2 344.6 564.7 343.6 565.2 344.6 565.7 345.1 566.2 345.2 566.7 346.5 567.2 346.1 567.7 345.7 568.2 345.3 568.7 346.4 569.2 345.7 569.7 346.1 570.2 344.9 570.7 345.9 571.2 344.9 571.7 347.3 572.2 345.7 572.7 346 573.2 346 573.7 346.1 574.2 346.3 574.7 346.8 575.2 345.9 575.7 347.5 576.2 346.6 576.7 346.6 577.2 346.1 577.7 346.4 578.2 345.8 578.7 346.6 579.2 346.7 579.7 345.9 580.2 346.5 580.7 346.9 581.2 346 581.7 346.7 582.2 346.4 582.7 347.7 583.2 346.8 583.7 346.8 584.2 347.8 584.7 345.1 585.2 345.8 585.7 348 586.2 346.3 586.7 346.7 587.2 346.3 587.7 347.3 588.2 346 588.7 346.8 589.2 346.5 589.7 344.9 590.2 345.8 590.7 345 591.2 347.7 591.7 346.2 592.2 346.3 592.7 346.6 593.2 346.9 593.7 346.5 594.2 346 594.7 347 595.2 346.3 595.7 346.3 596.2 346.7 596.7 346.7 597.2 346.3 597.7 348 598.2 347.6 598.7 348.7 599.2 348.4 599.7 346.1 600.2 345.9 600.7 346.9 601.2 344.7 601.7 343.2 602.2 343.7 602.7 344.8 603.2 344.9 603.7 345.6 604.2 345.8 604.7 345.8 605.2 345.4 605.7 345 606.2 346 606.7 345.3 607.2 345.9 607.7 345.4 608.2 346.7 608.7 347.3 609.2 346 609.7 348 610.2 346.5 610.7 345.1 611.2 346.8 611.7 347.2 612.2 346 612.7 346.3 613.2 346.8 613.7 346.5 614.2 347.5 614.7 346.8 615.2 345.9 615.7 347.9 616.2 347.7 616.7 346.4 617.2 347 617.7 346.6 618.2 347 618.7 346.4 619.2 346.6 619.7 344.4 620.2 347.1 620.7 346.6 621.2 345.9 621.7 346.2 622.2 347.8 622.7 346.8 623.2 346.2 623.7 345.2 624.2 346.3 624.7 345.9 625.2 346.1 625.7 347.5 626.2 345.1 626.7 345.8 627.2 346.7 627.7 346.1 628.2 345.9 628.7 346.3 629.2 346.9 629.7 347 630.2 346.2 630.7 346.6 631.2 345.9 631.7 345.9 632.2 347.1 632.7 346.6 633.2 346.8 633.7 346.5 634.2 345.8 634.7 346.9 635.2 345.2 635.7 347.1 636.2 346.7 636.7 348.3 637.2 349 637.7 348.8 638.2 346.1 638.7 346 639.2 343.1 639.7 344 640.2 344.1 640.7 344.3 641.2 344 641.7 344.2 641.7 357.2 641.2 357.3 640.7 358.4 640.2 358.5 639.7 358.6 639.2 359.2 638.7 354.4 638.2 353 637.7 351 637.2 350.8 636.7 353.1 636.2 353.2 635.7 353.4 635.2 355.2 634.7 354.7 634.2 353.7 633.7 353.8 633.2 354.6 632.7 353.8 632.2 354.9 631.7 354.5 631.2 353.7 630.7 352.9 630.2 354.1 629.7 354.6 629.2 354.1 628.7 353.9 628.2 353.9 627.7 354.7 627.2 354.3 626.7 355.8 626.2 354.5 625.7 354.7 625.2 354.1 624.7 355 624.2 354.3 623.7 356.2 623.2 354.1 622.7 354.3 622.2 353.7 621.7 354.7 621.2 353.9 620.7 353.7 620.2 354.1 619.7 354.6 619.2 354.6 618.7 354.1 618.2 352.7 617.7 352.4 617.2 354.4 616.7 354.1 616.2 353.9 615.7 356.5 615.2 355 614.7 353.8 614.2 354.9 613.7 354.7 613.2 354.6 612.7 356.3 612.2 354 611.7 354.8 611.2 354.8 610.7 353.1 610.2 352.5 609.7 356.8 609.2 354.4 608.7 354.9 608.2 353.2 607.7 354.4 607.2 355.4 606.7 354.8 606.2 354.8 605.7 355.9 605.2 356.6 604.7 355.1 604.2 356 603.7 357 603.2 356 602.7 357.5 602.2 356.7 601.7 357.9 601.2 357.4 600.7 355.4 600.2 354.3 599.7 355.5 599.2 350.7 598.7 354.1 598.2 353.6 597.7 354.8 597.2 353.6 596.7 354.1 596.2 356.7 595.7 353.7 595.2 355 594.7 354.1 594.2 354.8 593.7 355.4 593.2 356.1 592.7 354.9 592.2 353.7 591.7 353.8 591.2 354.4 590.7 352.4 590.2 354.8 589.7 356.4 589.2 354 588.7 353.2 588.2 354.3 587.7 354.9 587.2 354.3 586.7 353.7 586.2 353.7 585.7 353.2 585.2 354.7 584.7 354.7 584.2 352.8 583.7 353.7 583.2 356.2 582.7 353.2 582.2 354.5 581.7 354.3 581.2 356.3 580.7 354.9 580.2 354.4 579.7 355.9 579.2 354.6 578.7 356.2 578.2 354.7 577.7 354.1 577.2 354.8 576.7 354.8 576.2 355.6 575.7 352.7 575.2 353.8 574.7 354.1 574.2 354.2 573.7 354.7 573.2 355 572.7 353.2 572.2 354.9 571.7 353.5 571.2 353.1 570.7 354.1 570.2 354.7 569.7 353.8 569.2 353.3 568.7 355.2 568.2 355.1 567.7 354.8 567.2 355 566.7 357.9 566.2 355.5 565.7 356 565.2 356.3 564.7 356.9 564.2 356.3 563.7 358.7 563.2 357.3 562.7 359.7 562.2 354.7 561.7 354.4 561.2 355.9 560.7 353.2 560.2 352.6 559.7 354.5 559.2 354.3 558.7 354.5 558.2 352.5 557.7 354.9 557.2 354.8 556.7 355 556.2 355.2 555.7 355.1 555.2 354.5 554.7 354.2 554.2 354.4 553.7 354.5 553.2 354.4 552.7 354.9 552.2 356.1 551.7 353.7 551.2 353.7 550.7 353.8 550.2 354.5 549.7 354.1 549.2 354.9 548.7 354.2 548.2 355 547.7 354.9 547.2 353.9 546.7 354.9 546.2 354 545.7 352.7 545.2 354.8 544.7 353.8 544.2 355.7 543.7 354.7 543.2 355 542.7 353.9 542.2 354.8 541.7 352.5 541.2 352.1 540.7 353.7 540.2 354.1 539.7 354.2 539.2 354.1 538.7 354 538.2 354.7 537.7 354.8 537.2 354.9 536.7 354.8 536.2 355.6 535.7 356.1 535.2 353.5 534.7 354.2 534.2 354.1 533.7 356.6 533.2 354.3 532.7 354 532.2 354.1 531.7 354.7 531.2 354.2 530.7 354.8 530.2 355.5 529.7 356.2 529.2 355.3 528.7 354.8 528.2 355.4 527.7 356.4 527.2 358.1 526.7 356.8 526.2 355.4 525.7 355 525.2 358 524.7 357.5 524.2 357.3 523.7 354.7 523.2 353.7 522.7 352.8 522.2 351.2 521.7 352.2 521.2 352.6 520.7 353.7 520.2 355.4 519.7 354 519.2 353.5 518.7 356.4 518.2 355 517.7 353.9 517.2 356.3 516.7 354.6 516.2 354.1 515.7 356.1 515.2 354.2 514.7 354 514.2 354.4 513.7 354.6 513.2 353.6 512.7 356 512.2 354.5 511.7 354.2 511.2 355.8 510.7 354.4 510.2 352.5 509.7 353.6 509.2 354 508.7 354.7 508.2 354.8 507.7 355.4 507.2 353.4 506.7 353.8 506.2 353.8 505.7 353.9 505.2 353.8 504.7 354.1 504.2 354.1 503.7 353.3 503.2 354.8 502.7 353.4 502.2 354.7 501.7 354.6 501.2 353.9 500.7 354.8 500.2 354.7 499.7 354.5 499.2 353.9 498.7 355.3 498.2 354 497.7 354.9 497.2 354.7 496.7 355.6 496.2 355 495.7 355 495.2 354.4 494.7 354.5 494.2 354.6 493.7 355.4 493.2 354.4 492.7 354.9 492.2 355.6 491.7 354.3 491.2 357 490.7 353.1 490.2 354.8 489.7 355.8 489.2 355.4 488.7 355.2 488.2 356.3 487.7 357.6 487.2 356.6 486.7 357.3 486.2 359 485.7 358.6 485.2 353.1 484.7 353.9 484.2 351.4 483.7 351.9 483.2 351.5 482.7 353.2 482.2 353.2 481.7 354.7 481.2 354.9 480.7 355 480.2 354.3 479.7 353.8 479.2 354.3 478.7 353.8 478.2 354.9 477.7 354.4 477.2 354.8 476.7 353.3 476.2 353.7 475.7 353.6 475.2 356 474.7 354.2 474.2 354.4 473.7 354.7 473.2 354.7 472.7 354.6 472.2 352.4 471.7 353.9 471.2 354.6 470.7 355.2 470.2 354.4 469.7 354.4 469.2 355.3 468.7 356.2 468.2 355 467.7 353.3 467.2 353.7 466.7 354.3 466.2 353.6 465.7 354.7 465.2 354.1 464.7 353.9 464.2 354.2 463.7 354 463.2 353.8 462.7 353.6 462.2 354 461.7 354.8 461.2 352.3 460.7 354.4 460.2 354 459.7 354.9 459.2 354.9 458.7 354.3 458.2 354.2 457.7 354.6 457.2 354.2 456.7 352.7 456.2 354 455.7 353.2 455.2 355.2 454.7 355.1 454.2 355.5 453.7 355.2 453.2 354.7 452.7 355.9 452.2 355.2 451.7 355.2 451.2 355.8 450.7 356.6 450.2 355.9 449.7 356.5 449.2 357.8 448.7 359.4 448.2 357.2 447.7 358.1 447.2 360 446.7 355.5 446.2 355.6 445.7 351.6 445.2 351.5 444.7 352.7 444.2 354.7 443.7 355.7 443.2 353.6 442.7 353.8 442.2 354.3 441.7 354.8 441.2 354.7 440.7 353.7 440.2 354.4 439.7 353.6 439.2 353.9 438.7 355 438.2 354.8 437.7 355.9 437.2 353.8 436.7 353.8 436.2 354.9 435.7 354.5 435.2 354.3 434.7 354.8 434.2 355.4 433.7 354.1 433.2 355.2 432.7 353.1 432.2 354.5 431.7 354.2 431.2 354.2 430.7 352.1 430.2 352.6 429.7 353.7 429.2 354.2 428.7 354.4 428.2 354.5 427.7 353.5 427.2 353.7 426.7 352.2 426.2 352 425.7 354.6 425.2 353.9 424.7 356.3 424.2 353.8 423.7 354.2 423.2 354.7 422.7 353.7 422.2 354 421.7 354.1 421.2 354.4 420.7 353.1 420.2 354.4 419.7 356 419.2 354.4 418.7 353.7 418.2 355.6 417.7 353.6 417.2 354.4 416.7 354.4 416.2 354 415.7 355 415.2 353.8 414.7 354.5 414.2 354.2 413.7 355.5 413.2 355.9 412.7 356.1 412.2 356.4 411.7 356.4 411.2 356.5 410.7 357.3 410.2 357 409.7 358.1 409.2 358.3 408.7 358.9 408.2 354.5 407.7 354.5 407.2 350.7 406.7 351.4 406.2 351.6 405.7 355 405.2 354.5 404.7 354.7 404.2 354 403.7 354.8 403.2 356.1 402.7 354.1 402.2 352.7 401.7 354.7 401.2 354.7 400.7 354.1 400.2 355.1 399.7 353.7 399.2 354.2 398.7 354.8 398.2 354.1 397.7 355 397.2 354.9 396.7 353.9 396.2 355.5 395.7 354.1 395.2 354.1 394.7 354.2 394.2 353.7 393.7 354.3 393.2 354.4 392.7 354.6 392.2 355.9 391.7 354.3 391.2 354.4 390.7 354.9 390.2 352.6 389.7 354.6 389.2 354.5 388.7 353.7 388.2 355.6 387.7 353.9 387.2 354.6 386.7 354.7 386.2 355 385.7 354.5 385.2 356.4 384.7 353.1 384.2 354.7 383.7 353.6 383.2 354.9 382.7 353.3 382.2 355.7 381.7 354.1 381.2 355.2 380.7 355 380.2 353.8 379.7 354 379.2 354.9 378.7 355.3 378.2 355.2 377.7 356.5 377.2 355.2 376.7 355.1 376.2 355.3 375.7 355.1 375.2 354.9 374.7 355.7 374.2 355.8 373.7 356.4 373.2 356.2 372.7 357.7 372.2 355.3 371.7 358.2 371.2 358.3 370.7 357.5 370.2 355.1 369.7 354.7 369.2 351.7 368.7 351.6 368.2 351.9 367.7 351 367.2 353.4 366.7 354 366.2 353.7 365.7 353.9 365.2 354.6 364.7 354.5 364.2 354.5 363.7 354.7 363.2 354.3 362.7 354.5 362.2 353.8 361.7 355.8 361.2 353.3 360.7 354.1 360.2 352.1 359.7 353.9 359.2 354.5 358.7 354.1 358.2 354.1 357.7 354.7 357.2 354.4 356.7 354.3 356.2 354.5 355.7 354 355.2 354.3 354.7 354.5 354.2 354.1 353.7 354.8 353.2 354.1 352.7 353 352.2 355.9 351.7 354.4 351.2 353.7 350.7 356.3 350.2 355.4 349.7 354.6 349.2 352.8 348.7 354.3 348.2 353.1 347.7 353.9 347.2 354.2 346.7 354.4 346.2 354 345.7 354 345.2 354.8 344.7 356.4 344.2 354.2 343.7 354.9 343.2 355.3 342.7 355.3 342.2 352.6 341.7 354.3 341.2 355.7 340.7 354.8 340.2 355.1 339.7 354.6 339.2 355.3 338.7 354.7 338.2 355.8 337.7 355.7 337.2 354.8 336.7 357.4 336.2 356.1 335.7 355.2 335.2 357 334.7 357.7 334.2 357.1 333.7 358.9 333.2 358.4 332.7 361.4 332.2 355.3 331.7 354.9 331.2 350.5 330.7 351.3 330.2 352.9 329.7 352.9 329.2 353.4 328.7 354.4 328.2 354.2 327.7 353.6 327.2 354.1 326.7 354.5 326.2 354.3 325.7 354.7 325.2 355.8 324.7 355.6 324.2 355.9 323.7 354.1 323.2 354.5 322.7 353.7 322.2 353.1 321.7 355.1 321.2 353.6 320.7 353.1 320.2 354.4 319.7 354.6 319.2 353.6 318.7 354.8 318.2 354.3 317.7 355 317.2 354.2 316.7 354.6 316.2 354.3 315.7 354.5 315.2 352.6 314.7 353.8 314.2 354.3 313.7 356 313.2 354.9 312.7 354.9 312.2 354.6 311.7 354.2 311.2 354.4 310.7 354.7 310.2 355.8 309.7 354.6 309.2 356.4 308.7 352.8 308.2 354.4 307.7 354.9 307.2 354.7 306.7 352.9 306.2 355.2 305.7 354.5 305.2 353.5 304.7 354.8 304.2 354.1 303.7 354.1 303.2 354 302.7 355.2 302.2 354.3 301.7 354.1 301.2 352.8 300.7 354.4 300.2 354.6 299.7 354.1 299.2 356.1 298.7 355.3 298.2 355.9 297.7 355.5 297.2 356.6 296.7 356.1 296.2 357.3 295.7 357.6 295.2 357 294.7 357.9 294.2 356.9 293.7 358.4 293.2 354.2 292.7 353.9 292.2 352.4 291.7 351.6 291.2 352.6 290.7 353.8 290.2 355.4 289.7 354.9 289.2 354.5 288.7 355.7 288.2 354.4 287.7 353.8 287.2 354.8 286.7 356 286.2 353.9 285.7 353.4 285.2 354.7 284.7 355.9 284.2 354.2 283.7 353.1 283.2 354.9 282.7 354.3 282.2 353.5 281.7 354.9 281.2 354 280.7 353.2 280.2 355.2 279.7 353.4 279.2 353.8 278.7 353.6 278.2 354 277.7 354.3 277.2 354.8 276.7 353.3 276.2 353.7 275.7 354.5 275.2 353.1 274.7 354.9 274.2 355 273.7 355.9 273.2 354.2 272.7 354.2 272.2 354.5 271.7 354.7 271.2 354.7 270.7 354.1 270.2 354 269.7 354.7 269.2 353.8 268.7 354.2 268.2 356.4 267.7 352.9 267.2 354.9 266.7 354.6 266.2 356.4 265.7 353.3 265.2 354.7 264.7 354.7 264.2 354.7 263.7 355.2 263.2 355.3 262.7 353.8 262.2 354.5 261.7 355.6 261.2 355.8 260.7 354.8 260.2 356.2 259.7 355.2 259.2 356.1 258.7 355.7 258.2 356 257.7 354.4 257.2 356.5 256.7 357.5 256.2 357 255.7 357.3 255.2 357.9 254.7 353.7 254.2 354.9 253.7 353.9 253.2 351.5 252.7 351.6 252.2 352.7 251.7 353.8 251.2 355 250.7 353.9 250.2 354.6 249.7 356 249.2 354.1 248.7 353.9 248.2 354.9 247.7 354 247.2 356.3 246.7 354.8 246.2 354.8 245.7 353.6 245.2 353.5 244.7 353.7 244.2 354.1 243.7 353.2 243.2 354.4 242.7 354.6 242.2 355.4 241.7 353.9 241.2 353.6 240.7 354.5 240.2 354.5 239.7 354 239.2 353.6 238.7 355.7 238.2 353.9 237.7 353.7 237.2 355.7 236.7 355.1 236.2 353.1 235.7 354.1 235.2 354 234.7 356.1 234.2 354.6 233.7 354.6 233.2 354.1 232.7 354.8 232.2 354.2 231.7 353.8 231.2 353.9 230.7 356.3 230.2 354.9 229.7 353.2 229.2 353.8 228.7 354.9 228.2 353.7 227.7 354.6 227.2 354.3 226.7 354.9 226.2 354 225.7 352.6 225.2 353.9 224.7 354.5 224.2 354.9 223.7 354.2 223.2 354.3 222.7 355.5 222.2 356.2 221.7 354.8 221.2 355.8 220.7 356 220.2 355.9 219.7 355.9 219.2 356.2 218.7 356.3 218.2 357.5 217.7 357.1 217.2 356.2 216.7 358.5 216.2 353.9 215.7 354.4 215.2 354.3 214.7 352 214.2 351.9 213.7 353.4 213.2 354 212.7 352.6 212.2 352.8 211.7 353.7 211.2 355 210.7 355.6 210.2 353.3 209.7 354.2 209.2 353.8 208.7 354.8 208.2 354.8 207.7 355.5 207.2 353.8 206.7 354.1 206.2 355.7 205.7 353.7 205.2 354.7 204.7 352.6 204.2 354 203.7 354.9 203.2 354.7 202.7 355.8 202.2 355.6 201.7 354.5 201.2 354.7 200.7 354.7 200.2 354.9 199.7 353.7 199.2 355 198.7 354.8 198.2 354.9 197.7 354.6 197.2 354.9 196.7 354.1 196.2 354.7 195.7 354.9 195.2 355.6 194.7 353.8 194.2 353.8 193.7 355.3 193.2 354.9 192.7 352.6 192.2 354.7 191.7 354.2 191.2 354.3 190.7 354.5 190.2 355.1 189.7 354.3 189.2 354.9 188.7 354.3 188.2 353.9 187.7 354.3 187.2 355.1 186.7 355.1 186.2 354.8 185.7 355 185.2 355.3 184.7 354.9 184.2 355.1 183.7 355.1 183.2 356.1 182.7 356.3 182.2 355.9 181.7 356.8 181.2 356.3 180.7 355.7 180.2 357.1 179.7 356.7 179.2 357 178.7 359 178.2 354.1 177.7 354 177.2 350.7 176.7 351.2 176.2 352.1 175.7 352.5 175.2 355.3 174.7 355.4 174.2 354.8 173.7 353.7 173.2 354.6 172.7 354.4 172.2 354.2 171.7 353.6 171.2 354 170.7 354.8 170.2 354.4 169.7 353.9 169.2 353.9 168.7 353 168.2 354.6 167.7 354.2 167.2 354.6 166.7 353.8 166.2 354.3 165.7 353.6 165.2 354.3 164.7 354.1 164.2 353.6 163.7 354.3 163.2 354.8 162.7 354.5 162.2 354.2 161.7 353.9 161.2 354.5 160.7 353.9 160.2 352.2 159.7 354.3 159.2 354.4 158.7 354.3 158.2 353.9 157.7 353.7 157.2 354.7 156.7 352.3 156.2 354.1 155.7 354.4 155.2 354.1 154.7 353.2 154.2 353.7 153.7 354.1 153.2 354.5 152.7 354.7 152.2 354.1 151.7 354.3 151.2 353.1 150.7 353.9 150.2 356.5 149.7 353 149.2 354.4 148.7 352.9 148.2 355.1 147.7 354.8 147.2 356.3 146.7 355.6 146.2 356 145.7 356.3 145.2 356.6 144.7 355.7 144.2 357.1 143.7 356.3 143.2 356.9 142.7 356.9 142.2 357.6 141.7 358.9 141.2 355.7 140.7 354.1 140.2 352.6 139.7 352.1 139.2 351.9 138.7 352.6 138.2 353.3 137.7 354.5 137.2 354.7 136.7 353.8 136.2 354.8 135.7 354.2 135.2 354.2 134.7 354.5 134.2 354 133.7 355.6 133.2 354.2 132.7 353.7 132.2 352.6 131.7 354.5 131.2 354.1 130.7 355.1 130.2 353.9 129.7 353.8 129.2 353.8 128.7 354.9 128.2 354.7 127.7 354.1 127.2 355.6 126.7 354.6 126.2 354.2 125.7 354.5 125.2 356.6 124.7 354.4 124.2 354.5 123.7 352.8 123.2 354.8 122.7 354.5 122.2 355.2 121.7 354.4 121.2 354.5 120.7 354.2 120.2 353.8 119.7 354.4 119.2 353.8 118.7 353.7 118.2 353.6 117.7 353.7 117.2 354.4 116.7 354.1 116.2 353.9 115.7 354.2 115.2 353.8 114.7 353.8 114.2 355.5 113.7 354.4 113.2 352.5 112.7 356.4 112.2 354.8 111.7 354.7 111.2 354.8 110.7 354.6 110.2 354.2 109.7 354.1 109.2 355.1 108.7 355 108.2 355.6 107.7 353.8 107.2 354.3 106.7 355.2 106.2 355.6 105.7 356.3 105.2 355.7 104.7 355.9 104.2 355.6 103.7 358.5 103.2 358.2 102.7 360 102.2 355.5 101.7 354.1 101.2 351.5 100.7 352.4 100.2 352.5 99.7 353.2 99.2 355.6 98.7 354.7 98.2 353.8 97.7 354 97.2 353.7 96.7 354.3 96.2 353.8 95.7 354.2 95.2 354.4 94.7 353.9 94.2 353.3 93.7 354.6 93.2 355.3 92.7 353.7 92.2 354.6 91.7 353.8 91.2 352.8 90.7 353.5 90.2 354.3 89.7 354.2 89.2 354.1 88.7 355.5 88.2 356.1 87.7 352.9 87.2 353.9 86.7 354.7 86.2 354.3 85.7 354.8 85.2 353.9 84.7 353.1 84.2 354.3 83.7 354.6 83.2 354 82.7 354.4 82.2 355.6 81.7 353.7 81.2 356.1 80.7 354.5 80.2 354.3 79.7 353.7 79.2 353.5 78.7 356.3 78.2 356 77.7 354.5 77.2 352.2 76.7 355.5 76.2 354.2 75.7 355 75.2 354.9 74.7 354 74.2 354.1 73.7 354.7 73.2 355.2 72.7 355.2 72.2 354.4 71.7 354.6 71.2 353.5 70.7 354.3 70.2 354.3 69.7 356.1 69.2 355.6 68.7 353.2 68.2 357 67.7 355.5 67.2 355.3 66.7 357.8 66.2 355.8 65.7 357.5 65.2 357.1 64.7 358.2 64.2 359.2 63.7 357.9 63.2 354.4 62.7 354.8 62.2 354.6 61.7 351.9 61.2 351.8 60.7 353 60.2 355.3 59.7 353.9 59.2 354.5 58.7 354.4 58.2 354.9 57.7 354.7 57.2 353.7 56.7 352.6 56.2 354.7 55.7 355.3 55.2 354.3 54.7 354.2 54.2 354.3 53.7 355.1 53.2 353.7 52.7 354.4 52.2 354.6 51.7 353.9 51.2 353.9 50.7 352.4 50.2 355 49.7 353.7 49.2 354.2 48.7 354.8 48.2 353.7 47.7 354.7 47.2 354 46.7 355 46.2 354.9 45.7 353.8 45.2 354.7 44.7 352.8 44.2 354.8 43.7 354.1 43.2 354.6 42.7 354.9 42.2 354.2 41.7 354.2 41.2 354.7 40.7 354.4 40.2 355 39.7 353.6 39.2 354.9 38.7 353.6 38.2 353.8 37.7 353.9 37.2 354.4 36.7 353.5 36.2 353.8 35.7 353.8 35.2 355.5 34.7 356.3 34.2 354.1 33.7 354.8 33.2 354.8 32.7 355 32.2 354.2 31.7 354.7 31.2 352.6 30.7 353.2 30.2 355.2 29.7 354.8 29.2 355.3 28.7 355.8 28.2 354.6 27.7 356.5 27.2 356.3 26.7 356.6 26.2 356.8 25.7 357 25.2 357.4 24.7 359.7 24.2 358.9 23.7 354.6 23.2 353.7 22.7 351.6 22.2 353.3 21.7 352.7 21.2 352.5 20.7 353.4 20.2 356.4 19.7 355.9 19.2 354.1 18.7 354.3 18.2 355.8 17.7 354.8 17.2 354.5 16.7 354.8 16.2 354.1 15.7 354.7 15.2 354.4 14.7 354.6 14.2 352.9Z" fill="#00ff00"/>
<path d="M22.9 290V298M62.3 288.2V316.2M101.5 288.2V310.2M140.4 289V301M177.5 288.5V313.5M215.2 289V299M253.9 288.3V314.3M292.4 289.5V298.5M331.4 288.4V302.4M369.6 289V313M407.7 288.6V298.6M446.2 289.2V311.2M484.4 288.4V300.4M522.8 289V315M561.3 288.5V297.5M599.8 289V309M638.1 288.6V290.6" stroke="#00ff00" stroke-width="1.7" opacity=".6" fill="none"/>
<path d="M22.9 298V347M62.3 316.2V347M101.5 310.2V347M140.4 301V347M177.5 313.5V347M215.2 299V347M253.9 314.3V347M292.4 298.5V347M331.4 302.4V347M369.6 313V347M407.7 298.6V347M446.2 311.2V347M484.4 300.4V347M522.8 315V347M561.3 297.5V347M599.8 309V347M638.1 290.6V347" stroke="#00ff00" stroke-width="1.9" fill="none"/>
<path d="M23.4 331V346M62.8 331V346M102 331V346M140.9 331V346M178 331V346M215.8 331V346M254.4 331V346M292.9 331V346M331.9 331V346M370.1 331V346M408.2 331V346M446.7 331V346M484.9 331V346M523.2 331V346M561.8 331V346M600.3 331V346M638.6 331V346" stroke="#00ff00" stroke-width="2.6" opacity=".5" fill="none"/>
<path d="M23.6 346V360M63 346V360M102.2 346V360M141.1 346V360M178.2 346V360M215.9 346V360M254.6 346V360M293.1 346V360M332.1 346V360M370.2 346V360M408.4 346V360M446.9 346V360M485.1 346V360M523.5 346V360M562 346V360M600.5 346V360M638.9 346V360" stroke="#00ff00" stroke-width="1.2" opacity=".55" fill="none"/>
<path d="M5.4 52.1H14.2" stroke="#00e0f0" stroke-width="1.8"/>
<text x="3.9" y="47.8" font-size="7.9" textLength="8.2" lengthAdjust="spacingAndGlyphs" fill="#00e0f0" stroke="#00e0f0" stroke-width=".3">C3</text>
<path d="M5.4 251.3H14.2" stroke="#ff0080" stroke-width="1.8"/>
<text x="3.9" y="246.9" font-size="7.9" textLength="8.2" lengthAdjust="spacingAndGlyphs" fill="#ff0080" stroke="#ff0080" stroke-width=".3">C2</text>
<path d="M5.4 350.1H14.2" stroke="#00e000" stroke-width="1.8"/>
<text x="3.9" y="345.7" font-size="7.9" textLength="8.2" lengthAdjust="spacingAndGlyphs" fill="#00e000" stroke="#00e000" stroke-width=".3">C4</text>
<path d="M139.5 400.1L135.9 406.8H143.1Z" fill="#00ec00"/>
<path d="M641.9 330L648.9 326.4V333.6Z" fill="#00ec00"/>
<rect x="4.3" y="409.3" width="77.7" height="34.9" rx="2" fill="#bdbdbd"/>
<rect x="3.6" y="408.6" width="78.8" height="34.65" rx="2.4" fill="#45457f"/>
<rect x="3.1" y="408.1" width="78.3" height="34.3" rx="3" fill="#c2c2e3"/>
<rect x="4" y="409" width="77.4" height="33.4" rx="2.4" fill="#7676b4"/>
<rect x="5" y="409.9" width="76.3" height="32.4" rx="1.7" fill="#6e69a5"/>
<path d="M5 419.85v-8.2q0-1.75 1.75-1.75h72.8q1.75 0 1.75 1.75v8.2q0 0-1.2 0h-73.9q-1.2 0-1.2 0z" fill="#ff0080"/>
<rect x="85.5" y="409.3" width="78.5" height="34.9" rx="2" fill="#bdbdbd"/>
<rect x="84.8" y="408.6" width="79.6" height="34.65" rx="2.4" fill="#5c4d8a"/>
<rect x="84.3" y="408.1" width="79.1" height="34.3" rx="3" fill="#b09cc8"/>
<rect x="85.2" y="409" width="78.2" height="33.4" rx="2.4" fill="#8a74aa"/>
<rect x="86.1" y="409.9" width="77.1" height="32.4" rx="1.7" fill="#c595c8"/>
<path d="M86.1 419.85v-8.2q0-1.75 1.75-1.75h73.6q1.75 0 1.75 1.75v8.2q0 0-1.2 0h-74.7q-1.2 0-1.2 0z" fill="#00ffff"/>
<rect x="167" y="409.3" width="77.7" height="34.9" rx="2" fill="#bdbdbd"/>
<rect x="166.3" y="408.6" width="78.8" height="34.65" rx="2.4" fill="#45457f"/>
<rect x="165.8" y="408.1" width="78.3" height="34.3" rx="3" fill="#c2c2e3"/>
<rect x="166.7" y="409" width="77.4" height="33.4" rx="2.4" fill="#7676b4"/>
<rect x="167.7" y="409.9" width="76.3" height="32.4" rx="1.7" fill="#6e69a5"/>
<path d="M167.7 419.85v-8.2q0-1.75 1.75-1.75h72.8q1.75 0 1.75 1.75v8.2q0 0-1.2 0h-73.9q-1.2 0-1.2 0z" fill="#00ff00"/>
<rect x="475" y="409.3" width="89.1" height="34.9" rx="2" fill="#bdbdbd"/>
<rect x="474.3" y="408.6" width="90.2" height="34.65" rx="2.4" fill="#5a5a9a"/>
<rect x="473.8" y="408.1" width="89.7" height="34.3" rx="3" fill="#bcbce2"/>
<rect x="474.7" y="409" width="88.8" height="33.4" rx="2.4" fill="#7a7aba"/>
<rect x="475.7" y="409.9" width="87.8" height="32.4" rx="1.7" fill="#6e69a5"/>
<path d="M475.7 419.85v-8.2q0-1.75 1.75-1.75h84.2q1.75 0 1.75 1.75v8.2q0 0-1.2 0h-85.3q-1.2 0-1.2 0z" fill="#ffffff"/>
<rect x="568.2" y="409.3" width="77.7" height="34.9" rx="2" fill="#bdbdbd"/>
<rect x="567.5" y="408.6" width="78.8" height="34.65" rx="2.4" fill="#5a5a9a"/>
<rect x="567" y="408.1" width="78.3" height="34.3" rx="3" fill="#bcbce2"/>
<rect x="567.9" y="409" width="77.4" height="33.4" rx="2.4" fill="#7a7aba"/>
<rect x="568.9" y="409.9" width="76.3" height="32.4" rx="1.7" fill="#6e69a5"/>
<path d="M568.9 419.85v-8.2q0-1.75 1.75-1.75h72.8q1.75 0 1.75 1.75v8.2q0 0-1.2 0h-73.9q-1.2 0-1.2 0z" fill="#ffffff"/>
</svg>
<span class="lm" style="left:20.3px;top:8.4px">V</span><span class="ls" style="left:33.5px;top:15.4px">OUT</span>
<span class="lm" style="left:21.8px;top:86.8px">V</span><span class="ls" style="left:35.3px;top:93.2px">SW</span>
<span class="lm" style="left:20.1px;top:266.6px">I</span><span class="ls" style="left:26px;top:274px">L</span>
<div class="logo">LeCroy</div>
<svg width="650" height="444" viewBox="0 0 650 444"><path d="M597 16.1H632.2" stroke="#0000ff" stroke-width="1.8"/><path d="M594.4 15.8H598.5" stroke="#fff" stroke-width="1.6"/><path d="M598.5 15.8H602.6" stroke="#9090ff" stroke-width="1.6"/><path d="M595.4 6.3H602.8" stroke="#d8d8d8" stroke-width="1.1"/><path d="M641.9 4V19.9" stroke="#5a5a5a" stroke-width="1.2"/></svg>
<div class="bx" style="left:5px;width:76.3px"><div class="hd"><b>C2</b></div><div class="tg" style="right:1.9px;width:24.3px;color:#ff0080"><span>DC1M</span></div><div class="r r1">5.00 V/div</div><div class="r r2">-5.00 V offset</div></div>
<div class="bx" style="left:86.1px;width:77.1px"><div class="hd" style="color:#e4ffff"><b style="left:1.1px">C3</b></div><div class="tg" style="right:.7px;width:24.3px;color:#00e4f0"><span>AC1M</span></div><div class="r r1">20.0 mV/div</div><div class="r r2">60.00 mV ofst</div></div>
<div class="bx" style="left:167.7px;width:76.3px"><div class="hd"><b>C4</b></div><div class="tg" style="right:16.6px;width:17.6px;color:#00dc00"><span>BwL</span></div><div class="tg" style="right:1.9px;width:13.4px;color:#00dc00"><span>DC</span></div><div class="r r1" style="right:1.4px;transform:scaleX(.945)">2.00 A/div</div><div class="r r2" style="right:1.2px;transform:scaleX(.945)">-6.000 A ofst</div></div>
<div class="bx" style="left:475.7px;width:87.8px"><div class="hd" style="color:#f3f3f9"><b style="transform:scaleX(.94)">Timebase</b><i style="font-size:10px;transform:scaleX(.97)">-40.0 &micro;s</i></div><div class="r r1">20.0 &micro;s/div</div><div class="l l2">200 kS</div><div class="r r2">1.0 GS/s</div></div>
<div class="bx" style="left:568.9px;width:76.3px"><div class="hd" style="color:#f3f3f9"><b style="transform:scaleX(.94)">Trigger</b><i style="font-size:10px;transform:scaleX(.97)">C4 DC</i></div><div class="l l1">Stop</div><div class="r r1">800 mA</div><div class="l l2">Edge</div><div class="r r2">Positive</div></div>
</div></body></html>
